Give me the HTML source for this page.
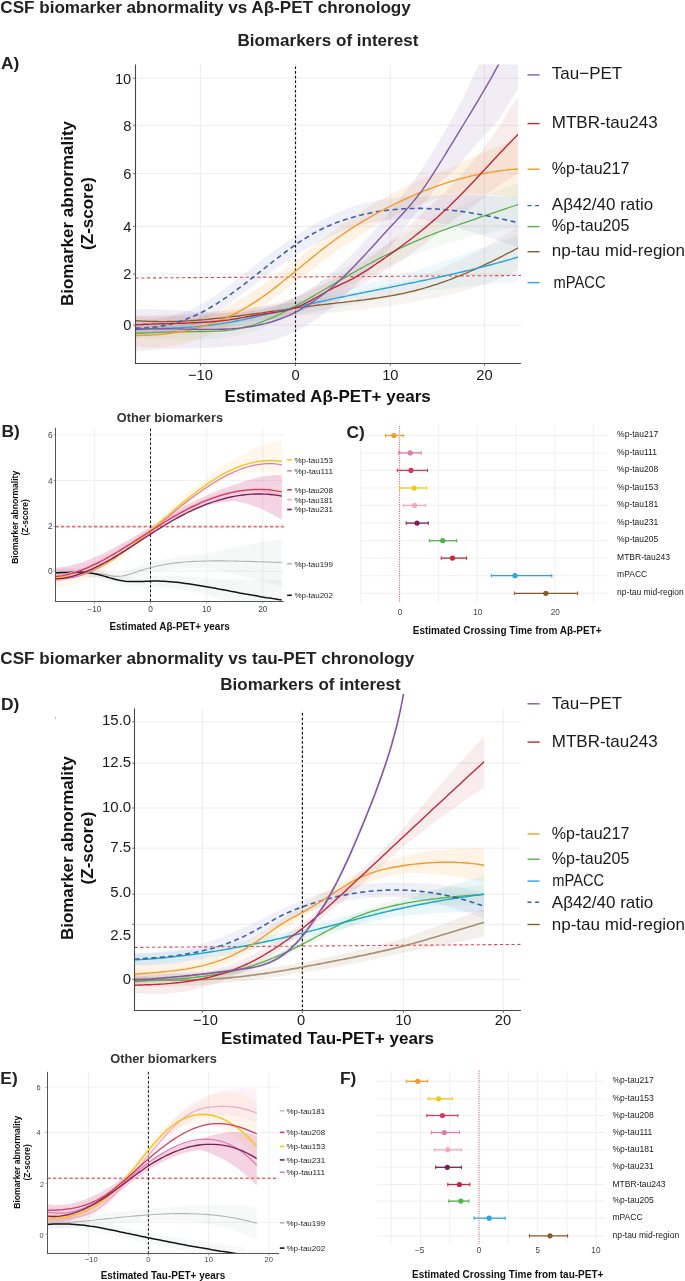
<!DOCTYPE html>
<html><head><meta charset="utf-8"><style>
html,body{margin:0;padding:0;background:#fff;}
svg{display:block;will-change:transform;}
svg text{font-family:"Liberation Sans", sans-serif;}
</style></head><body>
<svg width="685" height="1281" viewBox="0 0 685 1281">
<rect width="685" height="1281" fill="#fff"/>
<text x="0.3" y="12.7" font-size="17.1" fill="#222" font-weight="bold" textLength="410.5" lengthAdjust="spacingAndGlyphs" >CSF biomarker abnormality vs Aβ-PET chronology</text>
<text x="0.3" y="663.8" font-size="17.1" fill="#222" font-weight="bold" textLength="414" lengthAdjust="spacingAndGlyphs" >CSF biomarker abnormality vs tau-PET chronology</text>
<line x1="135.5" y1="78.2" x2="521.0" y2="78.2" stroke="#e9e9e9" stroke-width="0.8"/>
<line x1="135.5" y1="125.3" x2="521.0" y2="125.3" stroke="#e9e9e9" stroke-width="0.8"/>
<line x1="135.5" y1="173.6" x2="521.0" y2="173.6" stroke="#e9e9e9" stroke-width="0.8"/>
<line x1="135.5" y1="226.3" x2="521.0" y2="226.3" stroke="#e9e9e9" stroke-width="0.8"/>
<line x1="135.5" y1="274.0" x2="521.0" y2="274.0" stroke="#e9e9e9" stroke-width="0.8"/>
<line x1="135.5" y1="325.1" x2="521.0" y2="325.1" stroke="#e9e9e9" stroke-width="0.8"/>
<line x1="200.4" y1="64.4" x2="200.4" y2="363.5" stroke="#e9e9e9" stroke-width="0.8"/>
<line x1="295.5" y1="64.4" x2="295.5" y2="363.5" stroke="#e9e9e9" stroke-width="0.8"/>
<line x1="390.3" y1="64.4" x2="390.3" y2="363.5" stroke="#e9e9e9" stroke-width="0.8"/>
<line x1="484.5" y1="64.4" x2="484.5" y2="363.5" stroke="#e9e9e9" stroke-width="0.8"/>
<clipPath id="clipA"><rect x="135.5" y="64.4" width="382.6" height="299.2"/></clipPath>
<g clip-path="url(#clipA)">
<path d="M135.5,309.6L138.5,309.5L141.5,309.3L144.5,309.3L147.5,309.2L150.6,309.2L153.6,309.3L156.6,309.3L159.6,309.4L162.6,309.5L165.6,309.7L168.6,309.8L171.6,310.0L174.7,310.2L177.7,310.4L180.7,310.6L183.7,310.8L186.7,311.0L189.7,311.2L192.7,311.4L195.7,311.6L198.7,311.9L201.8,312.0L204.8,312.2L207.8,312.4L210.8,312.5L213.8,312.7L216.8,312.7L219.8,312.8L222.8,312.9L225.9,312.9L228.9,312.8L231.9,312.8L234.9,312.7L237.9,312.5L240.9,312.3L243.9,312.0L246.9,311.7L249.9,311.3L253.0,310.9L256.0,310.4L259.0,309.9L262.0,309.2L265.0,308.6L268.0,307.8L271.0,307.0L274.0,306.1L277.1,305.1L280.1,304.1L283.1,303.0L286.1,301.8L289.1,300.5L292.1,299.2L295.1,297.8L298.1,296.3L301.1,294.7L304.2,292.9L307.2,291.1L310.2,289.1L313.2,287.1L316.2,285.0L319.2,282.8L322.2,280.5L325.2,278.2L328.3,275.8L331.3,273.2L334.3,270.7L337.3,268.0L340.3,265.3L343.3,262.5L346.3,259.6L349.3,256.7L352.4,253.7L355.4,250.7L358.4,247.6L361.4,244.5L364.4,241.3L367.4,238.1L370.4,234.8L373.4,231.5L376.4,228.1L379.5,224.7L382.5,221.0L385.5,217.3L388.5,213.4L391.5,209.6L394.5,205.7L397.5,201.9L400.5,198.0L403.6,194.0L406.6,190.1L409.6,186.1L412.6,182.0L415.6,177.9L418.6,173.7L421.6,169.3L424.6,164.7L427.6,160.0L430.7,155.3L433.7,150.4L436.7,145.4L439.7,140.2L442.7,135.0L445.7,129.7L448.7,124.3L451.7,118.8L454.8,113.3L457.8,107.9L460.8,102.5L463.8,96.8L466.8,90.3L469.8,83.8L472.8,77.3L475.8,70.9L478.8,64.5L481.9,58.2L484.9,51.7L487.9,45.7L490.9,39.5L493.9,33.3L496.9,27.0L499.9,20.6L502.9,14.1L506.0,7.4L509.0,0.6L512.0,-6.4L515.0,-13.7L518.0,-21.1 L518.0,87.9L515.0,93.3L512.0,98.4L509.0,103.4L506.0,108.3L502.9,113.0L499.9,117.5L496.9,121.9L493.9,125.2L490.9,128.4L487.9,131.5L484.9,134.6L481.9,138.0L478.8,141.4L475.8,144.7L472.8,148.3L469.8,152.1L466.8,155.8L463.8,159.5L460.8,163.1L457.8,166.6L454.8,170.1L451.7,172.8L448.7,175.5L445.7,178.0L442.7,180.5L439.7,183.1L436.7,187.2L433.7,191.2L430.7,195.0L427.6,198.7L424.6,202.3L421.6,205.9L418.6,209.7L415.6,213.8L412.6,217.8L409.6,221.8L406.6,225.7L403.6,229.6L400.5,233.5L397.5,237.3L394.5,241.1L391.5,244.9L388.5,248.7L385.5,252.4L382.5,256.1L379.5,259.7L376.4,263.1L373.4,266.4L370.4,269.7L367.4,272.9L364.4,276.1L361.4,279.3L358.4,282.4L355.4,285.4L352.4,288.4L349.3,291.3L346.3,294.2L343.3,297.0L340.3,299.8L337.3,302.5L334.3,305.1L331.3,307.6L328.3,310.1L325.2,312.5L322.2,314.8L319.2,317.1L316.2,319.2L313.2,321.3L310.2,323.3L307.2,325.2L304.2,327.0L301.1,328.7L298.1,330.3L295.1,331.7L292.1,333.1L289.1,334.4L286.1,335.6L283.1,336.7L280.1,337.8L277.1,338.8L274.0,339.7L271.0,340.5L268.0,341.3L265.0,342.0L262.0,342.6L259.0,343.2L256.0,343.7L253.0,344.2L249.9,344.6L246.9,344.9L243.9,345.2L240.9,345.4L237.9,345.5L234.9,345.8L231.9,346.1L228.9,346.5L225.9,346.8L222.8,347.0L219.8,347.3L216.8,347.5L213.8,347.6L210.8,347.8L207.8,347.9L204.8,348.0L201.8,348.1L198.7,348.2L195.7,348.2L192.7,348.3L189.7,348.3L186.7,348.4L183.7,348.5L180.7,348.5L177.7,348.6L174.7,348.6L171.6,348.7L168.6,348.8L165.6,348.9L162.6,349.1L159.6,349.2L156.6,349.4L153.6,349.6L150.6,349.8L147.5,350.1L144.5,350.4L141.5,350.8L138.5,351.2L135.5,351.6 Z" fill="#8059a4" fill-opacity="0.11" stroke="none"/>
<path d="M135.5,316.4L138.5,316.4L141.5,316.4L144.5,316.4L147.6,316.4L150.6,316.4L153.6,316.4L156.6,316.4L159.6,316.3L162.6,316.3L165.6,316.3L168.6,316.2L171.7,316.2L174.7,316.1L177.7,316.0L180.7,315.9L183.7,315.8L186.7,315.7L189.7,315.5L192.7,315.4L195.8,315.2L198.8,315.0L201.8,314.8L204.8,314.6L207.8,314.4L210.8,314.1L213.8,313.8L216.8,313.5L219.9,313.2L222.9,312.9L225.9,312.5L228.9,312.2L231.9,311.8L234.9,311.3L237.9,310.9L240.9,310.4L244.0,309.9L247.0,309.4L250.0,308.9L253.0,308.3L256.0,307.7L259.0,307.0L262.0,306.4L265.0,305.7L268.1,305.0L271.1,304.2L274.1,303.5L277.1,302.7L280.1,301.8L283.1,300.9L286.1,300.0L289.1,299.1L292.2,298.1L295.2,297.1L298.2,296.0L301.2,294.9L304.2,293.6L307.2,292.3L310.2,291.0L313.2,289.6L316.3,288.2L319.3,286.7L322.3,285.3L325.3,283.7L328.3,282.2L331.3,280.6L334.3,278.9L337.3,277.3L340.4,275.6L343.4,273.8L346.4,272.1L349.4,270.3L352.4,268.4L355.4,266.5L358.4,264.6L361.4,262.6L364.5,260.7L367.5,258.6L370.5,256.6L373.5,254.5L376.5,252.3L379.5,250.2L382.5,247.8L385.5,245.4L388.6,243.0L391.6,240.5L394.6,238.0L397.6,235.5L400.6,232.9L403.6,230.3L406.6,227.7L409.6,225.0L412.7,222.3L415.7,219.5L418.7,216.8L421.7,214.0L424.7,211.3L427.7,208.5L430.7,205.7L433.7,202.8L436.8,200.0L439.8,197.1L442.8,194.1L445.8,191.2L448.8,188.2L451.8,185.0L454.8,181.7L457.8,178.4L460.9,175.1L463.9,171.8L466.9,168.4L469.9,165.0L472.9,161.5L475.9,158.0L478.9,154.5L481.9,150.6L485.0,146.4L488.0,142.2L491.0,138.0L494.0,133.8L497.0,129.6L500.0,125.4L503.0,121.1L506.0,115.5L509.1,110.0L512.1,105.5L515.1,101.5L518.1,97.5 L518.1,173.5L515.1,175.5L512.1,177.4L509.1,179.2L506.0,180.9L503.0,182.5L500.0,184.8L497.0,187.0L494.0,189.2L491.0,191.4L488.0,193.9L485.0,196.3L481.9,198.7L478.9,201.1L475.9,203.5L472.9,205.9L469.9,208.3L466.9,210.6L463.9,212.9L460.9,215.1L457.8,217.3L454.8,219.5L451.8,221.7L448.8,224.0L445.8,226.6L442.8,229.2L439.8,231.7L436.8,234.2L433.7,236.7L430.7,239.1L427.7,241.5L424.7,243.9L421.7,246.2L418.7,248.5L415.7,250.7L412.7,252.8L409.6,254.9L406.6,257.0L403.6,259.0L400.6,261.0L397.6,263.0L394.6,264.9L391.6,266.8L388.6,268.7L385.5,270.5L382.5,272.3L379.5,274.1L376.5,276.0L373.5,277.8L370.5,279.6L367.5,281.4L364.5,283.1L361.4,284.8L358.4,286.4L355.4,288.1L352.4,289.6L349.4,291.2L346.4,292.7L343.4,294.2L340.4,295.6L337.3,297.0L334.3,298.4L331.3,299.7L328.3,301.0L325.3,302.3L322.3,303.5L319.3,304.7L316.3,305.8L313.2,306.9L310.2,308.0L307.2,309.0L304.2,310.1L301.2,311.0L298.2,312.0L295.2,313.1L292.2,314.1L289.1,315.1L286.1,316.0L283.1,316.9L280.1,317.8L277.1,318.7L274.1,319.5L271.1,320.2L268.1,321.0L265.0,321.7L262.0,322.4L259.0,323.0L256.0,323.7L253.0,324.3L250.0,324.9L247.0,325.4L244.0,325.9L240.9,326.4L237.9,326.9L234.9,327.3L231.9,327.8L228.9,328.2L225.9,328.5L222.9,328.9L219.9,329.2L216.8,329.5L213.8,329.8L210.8,330.1L207.8,330.4L204.8,330.6L201.8,330.8L198.8,331.0L195.8,331.2L192.7,331.4L189.7,331.5L186.7,331.7L183.7,331.8L180.7,331.9L177.7,332.0L174.7,332.1L171.7,332.2L168.6,332.2L165.6,332.3L162.6,332.3L159.6,332.3L156.6,332.4L153.6,332.4L150.6,332.4L147.6,332.4L144.5,332.4L141.5,332.4L138.5,332.4L135.5,332.4 Z" fill="#c0283a" fill-opacity="0.09" stroke="none"/>
<path d="M135.5,322.2L138.5,322.8L141.5,323.2L144.5,323.6L147.6,323.9L150.6,324.1L153.6,324.2L156.6,324.2L159.6,324.2L162.6,324.1L165.6,324.0L168.6,323.7L171.7,323.4L174.7,323.1L177.7,322.6L180.7,322.1L183.7,321.5L186.7,320.9L189.7,320.2L192.7,319.4L195.8,318.6L198.8,317.7L201.8,316.7L204.8,315.7L207.8,314.7L210.8,313.5L213.8,312.3L216.8,311.1L219.9,309.8L222.9,308.4L225.9,307.0L228.9,305.6L231.9,304.0L234.9,302.3L237.9,300.6L240.9,298.9L244.0,297.0L247.0,295.2L250.0,293.3L253.0,291.3L256.0,289.3L259.0,287.3L262.0,285.2L265.0,283.1L268.1,281.0L271.1,278.8L274.1,276.6L277.1,274.4L280.1,272.1L283.1,269.8L286.1,267.5L289.1,265.2L292.2,262.9L295.2,260.5L298.2,258.2L301.2,255.8L304.2,253.5L307.2,251.1L310.2,248.8L313.2,246.4L316.3,244.1L319.3,241.7L322.3,239.4L325.3,237.1L328.3,234.8L331.3,232.5L334.3,230.3L337.3,228.0L340.4,225.8L343.4,223.7L346.4,221.5L349.4,219.4L352.4,217.3L355.4,215.3L358.4,213.3L361.4,211.3L364.5,209.3L367.5,207.4L370.5,205.6L373.5,203.8L376.5,202.0L379.5,200.2L382.5,198.5L385.5,196.8L388.6,195.1L391.6,193.5L394.6,191.9L397.6,190.4L400.6,188.9L403.6,187.4L406.6,185.9L409.6,184.5L412.7,183.1L415.7,181.7L418.7,180.3L421.7,179.0L424.7,177.8L427.7,176.5L430.7,175.3L433.7,174.2L436.8,173.0L439.8,171.9L442.8,170.9L445.8,169.9L448.8,168.9L451.8,167.5L454.8,165.9L457.8,164.4L460.9,162.8L463.9,161.4L466.9,159.9L469.9,158.5L472.9,157.1L475.9,155.8L478.9,154.4L481.9,153.2L485.0,151.9L488.0,150.7L491.0,149.5L494.0,148.3L497.0,147.2L500.0,146.1L503.0,145.0L506.0,144.0L509.1,143.0L512.1,142.0L515.1,141.1L518.1,140.2 L518.1,198.2L515.1,197.7L512.1,197.2L509.1,196.8L506.0,196.4L503.0,196.0L500.0,195.6L497.0,195.3L494.0,195.0L491.0,194.8L488.0,194.5L485.0,194.3L481.9,194.2L478.9,194.1L475.9,194.0L472.9,193.9L469.9,193.9L466.9,193.9L463.9,193.9L460.9,194.0L457.8,194.1L454.8,194.2L451.8,194.4L448.8,194.8L445.8,195.7L442.8,196.6L439.8,197.5L436.8,198.5L433.7,199.5L430.7,200.6L427.7,201.7L424.7,202.8L421.7,203.9L418.7,205.1L415.7,206.3L412.7,207.6L409.6,208.8L406.6,210.2L403.6,211.5L400.6,212.9L397.6,214.3L394.6,215.8L391.6,217.4L388.6,218.9L385.5,220.5L382.5,222.1L379.5,223.8L376.5,225.5L373.5,227.2L370.5,229.0L367.5,230.8L364.5,232.6L361.4,234.5L358.4,236.4L355.4,238.4L352.4,240.4L349.4,242.4L346.4,244.4L343.4,246.5L340.4,248.6L337.3,250.8L334.3,253.0L331.3,255.2L328.3,257.4L325.3,259.6L322.3,261.9L319.3,264.1L316.3,266.4L313.2,268.7L310.2,271.0L307.2,273.3L304.2,275.6L301.2,277.9L298.2,280.1L295.2,282.4L292.2,284.7L289.1,286.9L286.1,289.1L283.1,291.4L280.1,293.5L277.1,295.7L274.1,297.9L271.1,300.0L268.1,302.1L265.0,304.1L262.0,306.2L259.0,308.1L256.0,310.1L253.0,312.0L250.0,313.9L247.0,315.7L244.0,317.4L240.9,319.2L237.9,320.8L234.9,322.5L231.9,324.1L228.9,325.6L225.9,327.2L222.9,328.7L219.9,330.2L216.8,331.6L213.8,333.0L210.8,334.3L207.8,335.6L204.8,336.8L201.8,337.9L198.8,339.0L195.8,340.0L192.7,341.0L189.7,341.9L186.7,342.7L183.7,343.5L180.7,344.2L177.7,344.8L174.7,345.4L171.7,345.9L168.6,346.3L165.6,346.7L162.6,347.0L159.6,347.2L156.6,347.3L153.6,347.4L150.6,347.4L147.6,347.3L144.5,347.2L141.5,346.9L138.5,346.6L135.5,346.2 Z" fill="#f39c2d" fill-opacity="0.13" stroke="none"/>
<path d="M135.5,319.9L138.5,319.9L141.5,319.9L144.5,319.8L147.6,319.6L150.6,319.4L153.6,319.1L156.6,318.7L159.6,318.3L162.6,317.8L165.6,317.2L168.6,316.5L171.7,315.8L174.7,315.0L177.7,314.1L180.7,313.1L183.7,312.1L186.7,310.9L189.7,309.7L192.7,308.3L195.8,306.9L198.8,305.4L201.8,303.8L204.8,302.1L207.8,300.3L210.8,298.4L213.8,296.4L216.8,294.4L219.9,292.3L222.9,290.1L225.9,287.9L228.9,285.7L231.9,283.4L234.9,281.1L237.9,278.7L240.9,276.3L244.0,274.0L247.0,271.6L250.0,269.2L253.0,266.8L256.0,264.5L259.0,262.1L262.0,259.8L265.0,257.5L268.1,255.3L271.1,253.0L274.1,250.8L277.1,248.6L280.1,246.4L283.1,244.3L286.1,242.2L289.1,240.1L292.2,238.1L295.2,236.1L298.2,234.1L301.2,232.2L304.2,230.3L307.2,228.5L310.2,226.7L313.2,225.0L316.3,223.3L319.3,221.6L322.3,220.0L325.3,218.4L328.3,216.9L331.3,215.5L334.3,214.1L337.3,212.7L340.4,211.4L343.4,210.2L346.4,209.0L349.4,207.9L352.4,206.8L355.4,205.8L358.4,204.8L361.4,204.0L364.5,203.1L367.5,202.4L370.5,201.7L373.5,201.0L376.5,200.4L379.5,199.9L382.5,199.4L385.5,198.9L388.6,198.5L391.6,198.2L394.6,197.9L397.6,197.6L400.6,197.4L403.6,197.2L406.6,197.1L409.6,197.0L412.7,197.0L415.7,196.9L418.7,197.0L421.7,196.8L424.7,196.5L427.7,196.2L430.7,196.0L433.7,195.8L436.8,195.6L439.8,195.4L442.8,195.3L445.8,195.2L448.8,195.1L451.8,195.0L454.8,195.0L457.8,195.0L460.9,195.0L463.9,195.0L466.9,195.1L469.9,195.1L472.9,195.2L475.9,195.3L478.9,195.4L481.9,195.5L485.0,195.6L488.0,195.8L491.0,195.9L494.0,196.0L497.0,196.2L500.0,196.4L503.0,196.5L506.0,196.7L509.1,196.8L512.1,197.0L515.1,197.1L518.1,197.3 L518.1,247.3L515.1,246.3L512.1,245.3L509.1,244.3L506.0,243.3L503.0,242.2L500.0,241.2L497.0,240.2L494.0,239.2L491.0,238.2L488.0,237.2L485.0,236.2L481.9,235.2L478.9,234.2L475.9,233.3L472.9,232.3L469.9,231.4L466.9,230.5L463.9,229.6L460.9,228.7L457.8,227.8L454.8,227.0L451.8,226.1L448.8,225.3L445.8,224.6L442.8,223.8L439.8,223.1L436.8,222.4L433.7,221.7L430.7,221.0L427.7,220.4L424.7,219.8L421.7,219.3L418.7,219.0L415.7,218.9L412.7,218.8L409.6,218.8L406.6,218.9L403.6,219.0L400.6,219.1L397.6,219.2L394.6,219.4L391.6,219.7L388.6,220.0L385.5,220.3L382.5,220.7L379.5,221.2L376.5,221.7L373.5,222.2L370.5,222.8L367.5,223.5L364.5,224.2L361.4,225.0L358.4,225.8L355.4,226.7L352.4,227.7L349.4,228.7L346.4,229.7L343.4,230.9L340.4,232.1L337.3,233.3L334.3,234.6L331.3,236.0L328.3,237.4L325.3,238.9L322.3,240.4L319.3,241.9L316.3,243.5L313.2,245.2L310.2,246.9L307.2,248.6L304.2,250.4L301.2,252.2L298.2,254.1L295.2,256.0L292.2,257.9L289.1,259.9L286.1,261.9L283.1,263.9L280.1,266.0L277.1,268.0L274.1,270.2L271.1,272.3L268.1,274.5L265.0,276.7L262.0,278.9L259.0,281.1L256.0,283.4L253.0,285.7L250.0,288.0L247.0,290.3L244.0,292.6L240.9,294.9L237.9,297.2L234.9,299.5L231.9,301.7L228.9,303.9L225.9,306.1L222.9,308.3L219.9,310.3L216.8,312.4L213.8,314.3L210.8,316.2L207.8,318.0L204.8,319.8L201.8,321.4L198.8,322.9L195.8,324.4L192.7,325.7L189.7,327.0L186.7,328.2L183.7,329.2L180.7,330.2L177.7,331.1L174.7,332.0L171.7,332.7L168.6,333.3L165.6,333.9L162.6,334.4L159.6,334.9L156.6,335.2L153.6,335.5L150.6,335.7L147.6,335.9L144.5,336.0L141.5,336.0L138.5,336.0L135.5,335.9 Z" fill="#6a6ab8" fill-opacity="0.1" stroke="none"/>
<path d="M135.5,326.7L138.5,326.5L141.5,326.4L144.5,326.2L147.6,326.1L150.6,326.0L153.6,326.0L156.6,326.0L159.6,326.0L162.6,326.0L165.6,326.0L168.6,326.0L171.7,326.0L174.7,326.0L177.7,326.1L180.7,326.1L183.7,326.1L186.7,326.1L189.7,326.1L192.7,326.1L195.8,326.0L198.8,325.9L201.8,325.8L204.8,325.7L207.8,325.5L210.8,325.3L213.8,325.1L216.8,324.8L219.9,324.4L222.9,324.0L225.9,323.6L228.9,323.0L231.9,322.5L234.9,321.8L237.9,321.1L240.9,320.4L244.0,319.5L247.0,318.6L250.0,317.6L253.0,316.6L256.0,315.5L259.0,314.4L262.0,313.2L265.0,312.0L268.1,310.7L271.1,309.4L274.1,308.0L277.1,306.6L280.1,305.1L283.1,303.7L286.1,302.1L289.1,300.6L292.2,299.0L295.2,297.4L298.2,295.8L301.2,294.1L304.2,292.4L307.2,290.6L310.2,288.8L313.2,287.0L316.3,285.2L319.3,283.4L322.3,281.6L325.3,279.7L328.3,277.9L331.3,276.1L334.3,274.3L337.3,272.5L340.4,270.6L343.4,268.8L346.4,267.1L349.4,265.3L352.4,263.5L355.4,261.7L358.4,260.0L361.4,258.2L364.5,256.5L367.5,254.8L370.5,253.1L373.5,251.4L376.5,249.7L379.5,248.0L382.5,246.3L385.5,244.7L388.6,243.0L391.6,241.4L394.6,239.8L397.6,238.2L400.6,236.6L403.6,235.0L406.6,233.4L409.6,231.9L412.7,230.3L415.7,228.8L418.7,227.3L421.7,225.7L424.7,224.1L427.7,222.5L430.7,220.9L433.7,219.3L436.8,217.8L439.8,216.2L442.8,214.7L445.8,213.2L448.8,211.7L451.8,210.3L454.8,208.8L457.8,207.4L460.9,206.0L463.9,204.6L466.9,203.2L469.9,201.9L472.9,200.6L475.9,199.3L478.9,198.0L481.9,196.7L485.0,195.5L488.0,194.3L491.0,193.1L494.0,191.9L497.0,190.8L500.0,189.7L503.0,188.6L506.0,187.5L509.1,186.4L512.1,185.4L515.1,184.4L518.1,183.5 L518.1,227.5L515.1,227.9L512.1,228.3L509.1,228.8L506.0,229.3L503.0,229.8L500.0,230.4L497.0,230.9L494.0,231.5L491.0,232.1L488.0,232.8L485.0,233.4L481.9,234.1L478.9,234.8L475.9,235.5L472.9,236.3L469.9,237.1L466.9,237.9L463.9,238.7L460.9,239.5L457.8,240.4L454.8,241.2L451.8,242.1L448.8,243.0L445.8,244.0L442.8,244.9L439.8,245.9L436.8,246.9L433.7,247.9L430.7,248.9L427.7,249.9L424.7,251.0L421.7,252.1L418.7,253.2L415.7,254.5L412.7,255.7L409.6,257.0L406.6,258.3L403.6,259.6L400.6,261.0L397.6,262.3L394.6,263.6L391.6,265.0L388.6,266.4L385.5,267.8L382.5,269.2L379.5,270.6L376.5,272.0L373.5,273.5L370.5,274.9L367.5,276.4L364.5,277.9L361.4,279.4L358.4,280.9L355.4,282.4L352.4,283.9L349.4,285.4L346.4,286.9L343.4,288.5L340.4,290.0L337.3,291.6L334.3,293.1L331.3,294.7L328.3,296.3L325.3,297.8L322.3,299.4L319.3,301.0L316.3,302.5L313.2,304.1L310.2,305.7L307.2,307.2L304.2,308.7L301.2,310.2L298.2,311.8L295.2,313.3L292.2,314.8L289.1,316.3L286.1,317.8L283.1,319.3L280.1,320.7L277.1,322.0L274.1,323.4L271.1,324.7L268.1,325.9L265.0,327.1L262.0,328.3L259.0,329.4L256.0,330.5L253.0,331.5L250.0,332.4L247.0,333.3L244.0,334.2L240.9,334.9L237.9,335.6L234.9,336.3L231.9,336.8L228.9,337.3L225.9,337.8L222.9,338.1L219.9,338.5L216.8,338.7L213.8,339.0L210.8,339.1L207.8,339.3L204.8,339.4L201.8,339.4L198.8,339.5L195.8,339.5L192.7,339.5L189.7,339.4L186.7,339.4L183.7,339.3L180.7,339.2L177.7,339.1L174.7,339.0L171.7,338.9L168.6,338.8L165.6,338.7L162.6,338.6L159.6,338.5L156.6,338.5L153.6,338.4L150.6,338.4L147.6,338.4L144.5,338.5L141.5,338.5L138.5,338.6L135.5,338.7 Z" fill="#5aad4f" fill-opacity="0.07" stroke="none"/>
<path d="M135.5,324.4L138.5,324.4L141.5,324.3L144.5,324.3L147.6,324.2L150.6,324.1L153.6,324.0L156.6,323.9L159.6,323.7L162.6,323.6L165.6,323.4L168.6,323.2L171.7,322.9L174.7,322.7L177.7,322.4L180.7,322.1L183.7,321.8L186.7,321.4L189.7,321.1L192.7,320.7L195.8,320.4L198.8,320.0L201.8,319.5L204.8,319.1L207.8,318.7L210.8,318.2L213.8,317.7L216.8,317.3L219.9,316.8L222.9,316.3L225.9,315.7L228.9,315.2L231.9,314.7L234.9,314.1L237.9,313.5L240.9,313.0L244.0,312.4L247.0,311.8L250.0,311.2L253.0,310.6L256.0,309.9L259.0,309.3L262.0,308.7L265.0,308.0L268.1,307.4L271.1,306.7L274.1,306.1L277.1,305.4L280.1,304.8L283.1,304.1L286.1,303.4L289.1,302.7L292.2,302.1L295.2,301.4L298.2,300.7L301.2,300.0L304.2,299.2L307.2,298.5L310.2,297.7L313.2,297.0L316.3,296.2L319.3,295.5L322.3,294.7L325.3,293.9L328.3,293.2L331.3,292.4L334.3,291.6L337.3,290.9L340.4,290.1L343.4,289.3L346.4,288.6L349.4,287.8L352.4,287.0L355.4,286.2L358.4,285.5L361.4,284.7L364.5,283.9L367.5,283.1L370.5,282.4L373.5,281.6L376.5,280.8L379.5,280.0L382.5,279.3L385.5,278.5L388.6,277.7L391.6,276.9L394.6,276.1L397.6,275.3L400.6,274.6L403.6,273.8L406.6,273.0L409.6,272.2L412.7,271.4L415.7,270.6L418.7,269.9L421.7,268.9L424.7,267.9L427.7,266.8L430.7,265.8L433.7,264.7L436.8,263.6L439.8,262.6L442.8,261.5L445.8,260.5L448.8,259.4L451.8,258.4L454.8,257.3L457.8,256.3L460.9,255.2L463.9,254.2L466.9,253.1L469.9,252.1L472.9,251.0L475.9,250.0L478.9,248.9L481.9,247.9L485.0,246.8L488.0,245.8L491.0,244.7L494.0,243.7L497.0,242.6L500.0,241.6L503.0,240.5L506.0,239.5L509.1,238.5L512.1,237.4L515.1,236.4L518.1,235.3 L518.1,281.3L515.1,281.7L512.1,282.0L509.1,282.3L506.0,282.6L503.0,282.9L500.0,283.2L497.0,283.5L494.0,283.8L491.0,284.1L488.0,284.4L485.0,284.7L481.9,285.0L478.9,285.3L475.9,285.7L472.9,286.0L469.9,286.3L466.9,286.6L463.9,286.9L460.9,287.2L457.8,287.5L454.8,287.9L451.8,288.2L448.8,288.5L445.8,288.8L442.8,289.1L439.8,289.4L436.8,289.7L433.7,290.1L430.7,290.4L427.7,290.7L424.7,291.0L421.7,291.3L418.7,291.8L415.7,292.3L412.7,292.9L409.6,293.5L406.6,294.1L403.6,294.7L400.6,295.3L397.6,295.8L394.6,296.4L391.6,297.0L388.6,297.6L385.5,298.2L382.5,298.8L379.5,299.3L376.5,299.9L373.5,300.5L370.5,301.1L367.5,301.6L364.5,302.2L361.4,302.8L358.4,303.4L355.4,303.9L352.4,304.5L349.4,305.1L346.4,305.7L343.4,306.2L340.4,306.8L337.3,307.4L334.3,307.9L331.3,308.5L328.3,309.1L325.3,309.6L322.3,310.2L319.3,310.7L316.3,311.3L313.2,311.8L310.2,312.4L307.2,313.0L304.2,313.5L301.2,314.1L298.2,314.6L295.2,315.3L292.2,315.9L289.1,316.5L286.1,317.1L283.1,317.7L280.1,318.3L277.1,318.9L274.1,319.5L271.1,320.0L268.1,320.6L265.0,321.2L262.0,321.8L259.0,322.3L256.0,322.9L253.0,323.4L250.0,324.0L247.0,324.5L244.0,325.0L240.9,325.5L237.9,326.0L234.9,326.5L231.9,327.0L228.9,327.5L225.9,327.9L222.9,328.4L219.9,328.8L216.8,329.2L213.8,329.7L210.8,330.1L207.8,330.4L204.8,330.8L201.8,331.2L198.8,331.5L195.8,331.8L192.7,332.1L189.7,332.4L186.7,332.7L183.7,333.0L180.7,333.2L177.7,333.4L174.7,333.6L171.7,333.8L168.6,334.0L165.6,334.1L162.6,334.2L159.6,334.3L156.6,334.4L153.6,334.5L150.6,334.5L147.6,334.5L144.5,334.5L141.5,334.5L138.5,334.5L135.5,334.4 Z" fill="#2ba6dc" fill-opacity="0.08" stroke="none"/>
<path d="M135.5,315.7L138.5,315.7L141.5,315.6L144.5,315.6L147.6,315.5L150.6,315.4L153.6,315.4L156.6,315.3L159.6,315.2L162.6,315.0L165.6,314.9L168.6,314.8L171.7,314.6L174.7,314.5L177.7,314.3L180.7,314.1L183.7,313.9L186.7,313.7L189.7,313.5L192.7,313.3L195.8,313.1L198.8,312.9L201.8,312.6L204.8,312.4L207.8,312.1L210.8,311.9L213.8,311.6L216.8,311.3L219.9,311.0L222.9,310.7L225.9,310.4L228.9,310.1L231.9,309.8L234.9,309.5L237.9,309.2L240.9,308.8L244.0,308.5L247.0,308.2L250.0,307.8L253.0,307.5L256.0,307.1L259.0,306.7L262.0,306.4L265.0,306.0L268.1,305.6L271.1,305.2L274.1,304.9L277.1,304.5L280.1,304.1L283.1,303.7L286.1,303.3L289.1,302.9L292.2,302.5L295.2,302.1L298.2,301.7L301.2,301.3L304.2,300.7L307.2,300.2L310.2,299.7L313.2,299.2L316.3,298.7L319.3,298.2L322.3,297.6L325.3,297.1L328.3,296.6L331.3,296.1L334.3,295.5L337.3,295.0L340.4,294.5L343.4,293.9L346.4,293.4L349.4,292.8L352.4,292.3L355.4,291.7L358.4,291.1L361.4,290.6L364.5,290.0L367.5,289.4L370.5,288.7L373.5,288.1L376.5,287.5L379.5,286.8L382.5,286.1L385.5,285.5L388.6,284.8L391.6,284.1L394.6,283.3L397.6,282.6L400.6,281.8L403.6,281.1L406.6,280.3L409.6,279.4L412.7,278.6L415.7,277.7L418.7,276.9L421.7,275.9L424.7,274.8L427.7,273.6L430.7,272.5L433.7,271.3L436.8,270.1L439.8,268.9L442.8,267.6L445.8,266.3L448.8,265.0L451.8,263.7L454.8,262.3L457.8,260.9L460.9,259.5L463.9,258.0L466.9,256.5L469.9,255.0L472.9,253.5L475.9,251.9L478.9,250.2L481.9,248.6L485.0,246.9L488.0,245.2L491.0,243.4L494.0,241.6L497.0,239.8L500.0,237.9L503.0,235.9L506.0,234.0L509.1,232.0L512.1,229.9L515.1,227.9L518.1,225.7 L518.1,269.7L515.1,271.3L512.1,272.7L509.1,274.2L506.0,275.5L503.0,276.9L500.0,278.2L497.0,279.5L494.0,280.7L491.0,281.9L488.0,283.0L485.0,284.2L481.9,285.2L478.9,286.3L475.9,287.3L472.9,288.3L469.9,289.2L466.9,290.1L463.9,291.0L460.9,291.8L457.8,292.6L454.8,293.4L451.8,294.2L448.8,294.9L445.8,295.6L442.8,296.3L439.8,296.9L436.8,297.5L433.7,298.1L430.7,298.7L427.7,299.2L424.7,299.7L421.7,300.2L418.7,300.8L415.7,301.4L412.7,302.0L409.6,302.6L406.6,303.1L403.6,303.7L400.6,304.2L397.6,304.7L394.6,305.2L391.6,305.7L388.6,306.2L385.5,306.6L382.5,307.0L379.5,307.4L376.5,307.8L373.5,308.2L370.5,308.6L367.5,309.0L364.5,309.3L361.4,309.7L358.4,310.0L355.4,310.3L352.4,310.6L349.4,311.0L346.4,311.3L343.4,311.6L340.4,311.8L337.3,312.1L334.3,312.4L331.3,312.7L328.3,313.0L325.3,313.2L322.3,313.5L319.3,313.8L316.3,314.0L313.2,314.3L310.2,314.6L307.2,314.8L304.2,315.1L301.2,315.4L298.2,315.7L295.2,316.0L292.2,316.4L289.1,316.8L286.1,317.1L283.1,317.5L280.1,317.8L277.1,318.2L274.1,318.5L271.1,318.9L268.1,319.2L265.0,319.6L262.0,319.9L259.0,320.2L256.0,320.6L253.0,320.9L250.0,321.2L247.0,321.5L244.0,321.8L240.9,322.1L237.9,322.4L234.9,322.7L231.9,323.0L228.9,323.3L225.9,323.5L222.9,323.8L219.9,324.0L216.8,324.3L213.8,324.5L210.8,324.8L207.8,325.0L204.8,325.2L201.8,325.4L198.8,325.6L195.8,325.8L192.7,326.0L189.7,326.2L186.7,326.4L183.7,326.5L180.7,326.7L177.7,326.8L174.7,327.0L171.7,327.1L168.6,327.2L165.6,327.3L162.6,327.4L159.6,327.5L156.6,327.5L153.6,327.6L150.6,327.6L147.6,327.7L144.5,327.7L141.5,327.7L138.5,327.7L135.5,327.7 Z" fill="#8a5a2c" fill-opacity="0.07" stroke="none"/>
</g>
<line x1="135.5" y1="278.0" x2="521.0" y2="275.5" stroke="#e8434d" stroke-width="1.1" stroke-dasharray="3.2,2.6"/>
<line x1="295.5" y1="66.4" x2="295.5" y2="363.5" stroke="#111" stroke-width="1.15" stroke-dasharray="2.6,2.1"/>
<clipPath id="clipA2"><rect x="135.5" y="64.4" width="382.6" height="299.2"/></clipPath>
<g clip-path="url(#clipA2)">
<path d="M135.5,320.7L138.5,320.9L141.5,321.1L144.5,321.2L147.6,321.3L150.6,321.4L153.6,321.5L156.6,321.5L159.6,321.6L162.6,321.6L165.6,321.6L168.6,321.5L171.7,321.5L174.7,321.4L177.7,321.3L180.7,321.1L183.7,321.0L186.7,320.8L189.7,320.7L192.7,320.5L195.8,320.3L198.8,320.0L201.8,319.8L204.8,319.6L207.8,319.3L210.8,319.0L213.8,318.7L216.8,318.4L219.9,318.1L222.9,317.8L225.9,317.4L228.9,317.1L231.9,316.7L234.9,316.3L237.9,316.0L240.9,315.6L244.0,315.2L247.0,314.8L250.0,314.4L253.0,314.0L256.0,313.6L259.0,313.2L262.0,312.8L265.0,312.3L268.1,311.9L271.1,311.5L274.1,311.1L277.1,310.7L280.1,310.2L283.1,309.8L286.1,309.4L289.1,309.0L292.2,308.5L295.2,308.1L298.2,307.7L301.2,307.3L304.2,306.9L307.2,306.5L310.2,306.1L313.2,305.8L316.3,305.4L319.3,305.0L322.3,304.7L325.3,304.3L328.3,304.0L331.3,303.6L334.3,303.3L337.3,302.9L340.4,302.6L343.4,302.3L346.4,301.9L349.4,301.6L352.4,301.2L355.4,300.9L358.4,300.5L361.4,300.1L364.5,299.8L367.5,299.4L370.5,299.0L373.5,298.5L376.5,298.1L379.5,297.7L382.5,297.2L385.5,296.7L388.6,296.2L391.6,295.7L394.6,295.1L397.6,294.5L400.6,293.9L403.6,293.3L406.6,292.6L409.6,291.9L412.7,291.2L415.7,290.5L418.7,289.7L421.7,288.9L424.7,288.0L427.7,287.1L430.7,286.2L433.7,285.2L436.8,284.3L439.8,283.2L442.8,282.2L445.8,281.1L448.8,280.0L451.8,278.9L454.8,277.7L457.8,276.5L460.9,275.3L463.9,274.0L466.9,272.8L469.9,271.5L472.9,270.2L475.9,268.8L478.9,267.4L481.9,266.1L485.0,264.6L488.0,263.2L491.0,261.8L494.0,260.3L497.0,258.8L500.0,257.3L503.0,255.8L506.0,254.2L509.1,252.7L512.1,251.1L515.1,249.5L518.1,247.9" fill="none" stroke="#8a5a2c" stroke-width="1.3" stroke-linejoin="round"/>
<path d="M135.5,328.8L138.5,328.8L141.5,328.8L144.5,328.7L147.6,328.7L150.6,328.6L153.6,328.6L156.6,328.5L159.6,328.5L162.6,328.4L165.6,328.3L168.6,328.2L171.7,328.1L174.7,328.0L177.7,327.9L180.7,327.7L183.7,327.5L186.7,327.4L189.7,327.2L192.7,326.9L195.8,326.7L198.8,326.4L201.8,326.1L204.8,325.8L207.8,325.5L210.8,325.1L213.8,324.8L216.8,324.3L219.9,323.9L222.9,323.4L225.9,322.9L228.9,322.4L231.9,321.9L234.9,321.3L237.9,320.7L240.9,320.1L244.0,319.5L247.0,318.8L250.0,318.2L253.0,317.5L256.0,316.8L259.0,316.1L262.0,315.4L265.0,314.7L268.1,313.9L271.1,313.2L274.1,312.5L277.1,311.7L280.1,311.0L283.1,310.2L286.1,309.5L289.1,308.8L292.2,308.0L295.2,307.3L298.2,306.6L301.2,305.9L304.2,305.2L307.2,304.5L310.2,303.8L313.2,303.2L316.3,302.5L319.3,301.8L322.3,301.2L325.3,300.5L328.3,299.9L331.3,299.2L334.3,298.6L337.3,297.9L340.4,297.3L343.4,296.7L346.4,296.1L349.4,295.4L352.4,294.8L355.4,294.2L358.4,293.6L361.4,293.0L364.5,292.4L367.5,291.8L370.5,291.2L373.5,290.6L376.5,290.0L379.5,289.4L382.5,288.8L385.5,288.2L388.6,287.6L391.6,287.0L394.6,286.4L397.6,285.7L400.6,285.1L403.6,284.5L406.6,283.9L409.6,283.3L412.7,282.7L415.7,282.1L418.7,281.4L421.7,280.8L424.7,280.2L427.7,279.6L430.7,278.9L433.7,278.3L436.8,277.6L439.8,277.0L442.8,276.3L445.8,275.6L448.8,275.0L451.8,274.3L454.8,273.6L457.8,272.9L460.9,272.2L463.9,271.5L466.9,270.8L469.9,270.1L472.9,269.3L475.9,268.6L478.9,267.8L481.9,267.1L485.0,266.3L488.0,265.5L491.0,264.7L494.0,263.9L497.0,263.1L500.0,262.3L503.0,261.5L506.0,260.6L509.1,259.8L512.1,258.9L515.1,258.0L518.1,257.1" fill="none" stroke="#2ba6dc" stroke-width="1.4" stroke-linejoin="round"/>
<path d="M135.5,333.4L138.5,333.2L141.5,333.0L144.5,332.9L147.6,332.8L150.6,332.7L153.6,332.5L156.6,332.4L159.6,332.3L162.6,332.2L165.6,332.2L168.6,332.1L171.7,332.0L174.7,331.9L177.7,331.9L180.7,331.8L183.7,331.8L186.7,331.7L189.7,331.7L192.7,331.6L195.8,331.6L198.8,331.5L201.8,331.5L204.8,331.5L207.8,331.4L210.8,331.3L213.8,331.2L216.8,331.1L219.9,331.0L222.9,330.8L225.9,330.5L228.9,330.2L231.9,329.8L234.9,329.4L237.9,328.8L240.9,328.2L244.0,327.5L247.0,326.7L250.0,325.9L253.0,325.0L256.0,324.0L259.0,322.9L262.0,321.8L265.0,320.7L268.1,319.4L271.1,318.1L274.1,316.8L277.1,315.4L280.1,314.0L283.1,312.5L286.1,311.0L289.1,309.5L292.2,307.9L295.2,306.3L298.2,304.6L301.2,302.9L304.2,301.3L307.2,299.5L310.2,297.8L313.2,296.1L316.3,294.3L319.3,292.5L322.3,290.8L325.3,289.0L328.3,287.2L331.3,285.4L334.3,283.7L337.3,281.9L340.4,280.1L343.4,278.4L346.4,276.6L349.4,274.9L352.4,273.2L355.4,271.5L358.4,269.8L361.4,268.1L364.5,266.5L367.5,264.8L370.5,263.2L373.5,261.6L376.5,260.0L379.5,258.4L382.5,256.9L385.5,255.3L388.6,253.8L391.6,252.3L394.6,250.9L397.6,249.4L400.6,248.0L403.6,246.6L406.6,245.2L409.6,243.8L412.7,242.5L415.7,241.2L418.7,239.9L421.7,238.7L424.7,237.4L427.7,236.2L430.7,235.0L433.7,233.9L436.8,232.7L439.8,231.5L442.8,230.4L445.8,229.3L448.8,228.2L451.8,227.1L454.8,226.0L457.8,225.0L460.9,223.9L463.9,222.9L466.9,221.8L469.9,220.8L472.9,219.8L475.9,218.8L478.9,217.7L481.9,216.7L485.0,215.7L488.0,214.7L491.0,213.7L494.0,212.7L497.0,211.7L500.0,210.6L503.0,209.6L506.0,208.6L509.1,207.5L512.1,206.5L515.1,205.5L518.1,204.4" fill="none" stroke="#5aad4f" stroke-width="1.3" stroke-linejoin="round"/>
<path d="M135.5,328.1L138.5,328.1L141.5,328.1L144.5,328.0L147.6,327.8L150.6,327.6L153.6,327.2L156.6,326.9L159.6,326.4L162.6,325.9L165.6,325.3L168.6,324.6L171.7,323.9L174.7,323.1L177.7,322.2L180.7,321.2L183.7,320.2L186.7,319.0L189.7,317.8L192.7,316.6L195.8,315.2L198.8,313.8L201.8,312.3L204.8,310.7L207.8,309.0L210.8,307.2L213.8,305.4L216.8,303.6L219.9,301.6L222.9,299.6L225.9,297.6L228.9,295.5L231.9,293.3L234.9,291.1L237.9,288.9L240.9,286.7L244.0,284.4L247.0,282.1L250.0,279.7L253.0,277.4L256.0,275.0L259.0,272.6L262.0,270.2L265.0,267.9L268.1,265.5L271.1,263.1L274.1,260.7L277.1,258.4L280.1,256.1L283.1,253.8L286.1,251.5L289.1,249.3L292.2,247.1L295.2,245.0L298.2,242.9L301.2,240.9L304.2,239.0L307.2,237.1L310.2,235.3L313.2,233.5L316.3,231.9L319.3,230.3L322.3,228.8L325.3,227.4L328.3,226.0L331.3,224.7L334.3,223.5L337.3,222.3L340.4,221.2L343.4,220.2L346.4,219.2L349.4,218.3L352.4,217.4L355.4,216.5L358.4,215.7L361.4,215.0L364.5,214.2L367.5,213.6L370.5,213.0L373.5,212.4L376.5,211.8L379.5,211.3L382.5,210.9L385.5,210.5L388.6,210.1L391.6,209.8L394.6,209.5L397.6,209.2L400.6,209.0L403.6,208.8L406.6,208.7L409.6,208.5L412.7,208.5L415.7,208.4L418.7,208.4L421.7,208.4L424.7,208.5L427.7,208.6L430.7,208.7L433.7,208.8L436.8,209.0L439.8,209.2L442.8,209.4L445.8,209.7L448.8,210.0L451.8,210.3L454.8,210.7L457.8,211.0L460.9,211.4L463.9,211.8L466.9,212.3L469.9,212.7L472.9,213.2L475.9,213.7L478.9,214.3L481.9,214.8L485.0,215.4L488.0,216.0L491.0,216.6L494.0,217.2L497.0,217.9L500.0,218.5L503.0,219.2L506.0,219.9L509.1,220.6L512.1,221.3L515.1,222.1L518.1,222.8" fill="none" stroke="#3a5fae" stroke-width="1.6" stroke-linejoin="round" stroke-dasharray="5,3.5"/>
<path d="M135.5,335.5L138.5,335.5L141.5,335.4L144.5,335.3L147.6,335.2L150.6,335.1L153.6,334.9L156.6,334.7L159.6,334.4L162.6,334.2L165.6,333.8L168.6,333.5L171.7,333.1L174.7,332.6L177.7,332.2L180.7,331.6L183.7,331.1L186.7,330.5L189.7,329.8L192.7,329.1L195.8,328.3L198.8,327.5L201.8,326.7L204.8,325.8L207.8,324.8L210.8,323.8L213.8,322.7L216.8,321.6L219.9,320.4L222.9,319.2L225.9,317.9L228.9,316.5L231.9,315.1L234.9,313.6L237.9,312.1L240.9,310.5L244.0,308.8L247.0,307.0L250.0,305.2L253.0,303.3L256.0,301.4L259.0,299.4L262.0,297.3L265.0,295.1L268.1,292.9L271.1,290.7L274.1,288.4L277.1,286.1L280.1,283.7L283.1,281.3L286.1,278.9L289.1,276.4L292.2,273.9L295.2,271.5L298.2,269.0L301.2,266.5L304.2,264.0L307.2,261.5L310.2,259.1L313.2,256.6L316.3,254.2L319.3,251.8L322.3,249.4L325.3,247.1L328.3,244.8L331.3,242.5L334.3,240.3L337.3,238.1L340.4,236.0L343.4,233.9L346.4,231.9L349.4,229.8L352.4,227.9L355.4,226.0L358.4,224.1L361.4,222.2L364.5,220.4L367.5,218.7L370.5,216.9L373.5,215.2L376.5,213.6L379.5,211.9L382.5,210.3L385.5,208.7L388.6,207.2L391.6,205.7L394.6,204.2L397.6,202.7L400.6,201.3L403.6,199.9L406.6,198.5L409.6,197.1L412.7,195.8L415.7,194.5L418.7,193.2L421.7,192.0L424.7,190.7L427.7,189.5L430.7,188.4L433.7,187.3L436.8,186.2L439.8,185.1L442.8,184.1L445.8,183.1L448.8,182.1L451.8,181.2L454.8,180.3L457.8,179.4L460.9,178.6L463.9,177.8L466.9,177.1L469.9,176.3L472.9,175.6L475.9,175.0L478.9,174.4L481.9,173.8L485.0,173.2L488.0,172.6L491.0,172.1L494.0,171.7L497.0,171.2L500.0,170.8L503.0,170.4L506.0,170.1L509.1,169.7L512.1,169.4L515.1,169.2L518.1,168.9" fill="none" stroke="#f39c2d" stroke-width="1.4" stroke-linejoin="round"/>
<path d="M135.5,324.8L138.5,324.6L141.5,324.5L144.5,324.3L147.6,324.2L150.6,324.1L153.6,324.0L156.6,323.9L159.6,323.8L162.6,323.7L165.6,323.6L168.6,323.6L171.7,323.5L174.7,323.4L177.7,323.3L180.7,323.2L183.7,323.2L186.7,323.1L189.7,322.9L192.7,322.8L195.8,322.7L198.8,322.5L201.8,322.4L204.8,322.2L207.8,322.0L210.8,321.8L213.8,321.5L216.8,321.3L219.9,321.0L222.9,320.6L225.9,320.3L228.9,319.9L231.9,319.4L234.9,319.0L237.9,318.5L240.9,317.9L244.0,317.4L247.0,316.8L250.0,316.3L253.0,315.7L256.0,315.2L259.0,314.7L262.0,314.2L265.0,313.8L268.1,313.4L271.1,313.0L274.1,312.5L277.1,312.1L280.1,311.6L283.1,311.0L286.1,310.4L289.1,309.6L292.2,308.7L295.2,307.7L298.2,306.6L301.2,305.3L304.2,303.9L307.2,302.4L310.2,300.8L313.2,299.2L316.3,297.5L319.3,295.8L322.3,294.1L325.3,292.4L328.3,290.7L331.3,289.1L334.3,287.5L337.3,286.1L340.4,284.6L343.4,283.2L346.4,281.8L349.4,280.3L352.4,278.8L355.4,277.1L358.4,275.4L361.4,273.6L364.5,271.7L367.5,269.8L370.5,267.8L373.5,265.8L376.5,263.7L379.5,261.7L382.5,259.6L385.5,257.5L388.6,255.4L391.6,253.2L394.6,251.1L397.6,248.9L400.6,246.7L403.6,244.5L406.6,242.3L409.6,240.0L412.7,237.7L415.7,235.3L418.7,232.9L421.7,230.5L424.7,228.1L427.7,225.5L430.7,223.0L433.7,220.4L436.8,217.8L439.8,215.1L442.8,212.3L445.8,209.5L448.8,206.7L451.8,203.8L454.8,200.8L457.8,197.8L460.9,194.7L463.9,191.6L466.9,188.5L469.9,185.3L472.9,182.2L475.9,179.0L478.9,175.7L481.9,172.5L485.0,169.3L488.0,166.0L491.0,162.8L494.0,159.5L497.0,156.3L500.0,153.1L503.0,149.9L506.0,146.7L509.1,143.6L512.1,140.4L515.1,137.4L518.1,134.3" fill="none" stroke="#c0283a" stroke-width="1.4" stroke-linejoin="round"/>
<path d="M135.5,329.6L138.5,329.4L141.5,329.2L144.5,329.0L147.5,328.9L150.6,328.8L153.6,328.8L156.6,328.7L159.6,328.7L162.6,328.7L165.6,328.8L168.6,328.8L171.6,328.8L174.7,328.9L177.7,328.9L180.7,329.0L183.7,329.1L186.7,329.1L189.7,329.2L192.7,329.3L195.7,329.3L198.8,329.4L201.8,329.4L204.8,329.4L207.8,329.4L210.8,329.4L213.8,329.4L216.8,329.4L219.8,329.3L222.9,329.2L225.9,329.0L228.9,328.9L231.9,328.7L234.9,328.4L237.9,328.2L240.9,327.9L243.9,327.5L247.0,327.1L250.0,326.7L253.0,326.2L256.0,325.6L259.0,325.0L262.0,324.3L265.0,323.6L268.0,322.8L271.1,322.0L274.1,321.0L277.1,320.0L280.1,319.0L283.1,317.8L286.1,316.6L289.1,315.3L292.1,313.9L295.2,312.4L298.2,310.8L301.2,309.1L304.2,307.4L307.2,305.5L310.2,303.6L313.2,301.6L316.2,299.5L319.2,297.3L322.3,295.0L325.3,292.7L328.3,290.3L331.3,287.8L334.3,285.2L337.3,282.5L340.3,279.8L343.3,277.0L346.4,274.1L349.4,271.1L352.4,268.1L355.4,265.0L358.4,261.8L361.4,258.6L364.4,255.4L367.4,252.1L370.5,248.8L373.5,245.5L376.5,242.2L379.5,238.8L382.5,235.5L385.5,232.2L388.5,229.0L391.5,225.8L394.6,222.5L397.6,219.3L400.6,216.1L403.6,212.8L406.6,209.4L409.6,206.0L412.6,202.4L415.6,198.7L418.7,194.8L421.7,190.8L424.7,186.6L427.7,182.2L430.7,177.7L433.7,173.0L436.7,168.2L439.7,163.4L442.8,158.5L445.8,153.6L448.8,148.7L451.8,143.8L454.8,138.8L457.8,133.9L460.8,128.9L463.8,124.0L466.9,119.0L469.9,114.1L472.9,109.1L475.9,104.1L478.9,99.1L481.9,94.0L484.9,88.8L487.9,83.6L491.0,78.3L494.0,72.9L497.0,67.4L500.0,61.8L503.0,56.1" fill="none" stroke="#8059a4" stroke-width="1.4" stroke-linejoin="round"/>
</g>
<line x1="135.5" y1="64.4" x2="135.5" y2="364.0" stroke="#474747" stroke-width="1.1"/>
<line x1="135.0" y1="363.5" x2="521.0" y2="363.5" stroke="#474747" stroke-width="1.1"/>
<line x1="133.0" y1="78.2" x2="135.5" y2="78.2" stroke="#555" stroke-width="0.8"/>
<text x="131.3" y="83.5" font-size="14.7" fill="#1a1a1a" text-anchor="end" >10</text>
<line x1="133.0" y1="125.3" x2="135.5" y2="125.3" stroke="#555" stroke-width="0.8"/>
<text x="131.3" y="130.6" font-size="14.7" fill="#1a1a1a" text-anchor="end" >8</text>
<line x1="133.0" y1="173.6" x2="135.5" y2="173.6" stroke="#555" stroke-width="0.8"/>
<text x="131.3" y="178.9" font-size="14.7" fill="#1a1a1a" text-anchor="end" >6</text>
<line x1="133.0" y1="226.3" x2="135.5" y2="226.3" stroke="#555" stroke-width="0.8"/>
<text x="131.3" y="231.6" font-size="14.7" fill="#1a1a1a" text-anchor="end" >4</text>
<line x1="133.0" y1="274.0" x2="135.5" y2="274.0" stroke="#555" stroke-width="0.8"/>
<text x="131.3" y="279.3" font-size="14.7" fill="#1a1a1a" text-anchor="end" >2</text>
<line x1="133.0" y1="325.1" x2="135.5" y2="325.1" stroke="#555" stroke-width="0.8"/>
<text x="131.3" y="330.4" font-size="14.7" fill="#1a1a1a" text-anchor="end" >0</text>
<line x1="200.4" y1="363.5" x2="200.4" y2="366.0" stroke="#555" stroke-width="0.8"/>
<text x="200.4" y="379.6" font-size="14.7" fill="#1a1a1a" text-anchor="middle" >−10</text>
<line x1="295.5" y1="363.5" x2="295.5" y2="366.0" stroke="#555" stroke-width="0.8"/>
<text x="295.5" y="379.6" font-size="14.7" fill="#1a1a1a" text-anchor="middle" >0</text>
<line x1="390.3" y1="363.5" x2="390.3" y2="366.0" stroke="#555" stroke-width="0.8"/>
<text x="390.3" y="379.6" font-size="14.7" fill="#1a1a1a" text-anchor="middle" >10</text>
<line x1="484.5" y1="363.5" x2="484.5" y2="366.0" stroke="#555" stroke-width="0.8"/>
<text x="484.5" y="379.6" font-size="14.7" fill="#1a1a1a" text-anchor="middle" >20</text>
<text x="237.4" y="45.8" font-size="17" fill="#222" font-weight="bold" textLength="181" lengthAdjust="spacingAndGlyphs" >Biomarkers of interest</text>
<text x="0.9" y="68.8" font-size="17.4" fill="#222" font-weight="bold" >A)</text>
<text x="72.8" y="213.5" font-size="17" fill="#111" font-weight="bold" text-anchor="middle" textLength="185" lengthAdjust="spacingAndGlyphs" transform="rotate(-90 72.8 213.5)" >Biomarker abnormality</text>
<text x="92.8" y="213.5" font-size="17" fill="#111" font-weight="bold" text-anchor="middle" transform="rotate(-90 92.8 213.5)" >(Z-score)</text>
<text x="224.6" y="401.5" font-size="17" fill="#111" font-weight="bold" textLength="206.2" lengthAdjust="spacingAndGlyphs" >Estimated Aβ-PET+ years</text>
<line x1="527.5" y1="74.9" x2="539.6" y2="74.9" stroke="#8059a4" stroke-width="1.4"/>
<text x="551.8" y="79.2" font-size="17" fill="#1a1a1a" >Tau−PET</text>
<line x1="527.5" y1="123.6" x2="539.6" y2="123.6" stroke="#c0283a" stroke-width="1.4"/>
<text x="551.8" y="128.0" font-size="17" fill="#1a1a1a" >MTBR-tau243</text>
<line x1="527.5" y1="169.2" x2="539.6" y2="169.2" stroke="#f39c2d" stroke-width="1.4"/>
<text x="551.8" y="173.6" font-size="17" fill="#1a1a1a" textLength="77.5" lengthAdjust="spacingAndGlyphs" >%p-tau217</text>
<line x1="527.5" y1="205.6" x2="539.6" y2="205.6" stroke="#3a5fae" stroke-width="1.4" stroke-dasharray="4,3.6"/>
<text x="551.8" y="209.5" font-size="17" fill="#1a1a1a" >Aβ42/40 ratio</text>
<line x1="527.5" y1="226.6" x2="539.6" y2="226.6" stroke="#5aad4f" stroke-width="1.4"/>
<text x="551.8" y="230.9" font-size="17" fill="#1a1a1a" textLength="77.5" lengthAdjust="spacingAndGlyphs" >%p-tau205</text>
<line x1="527.5" y1="251.7" x2="539.6" y2="251.7" stroke="#8a5a2c" stroke-width="1.4"/>
<text x="551.8" y="256.2" font-size="17" fill="#1a1a1a" >np-tau mid-region</text>
<line x1="527.5" y1="282.6" x2="539.6" y2="282.6" stroke="#2ba6dc" stroke-width="1.4"/>
<text x="553.5" y="287.9" font-size="17" fill="#1a1a1a" textLength="52.0" lengthAdjust="spacingAndGlyphs" >mPACC</text>
<line x1="55.5" y1="435.0" x2="283.8" y2="435.0" stroke="#e9e9e9" stroke-width="0.7"/>
<line x1="55.5" y1="480.5" x2="283.8" y2="480.5" stroke="#e9e9e9" stroke-width="0.7"/>
<line x1="55.5" y1="526.4" x2="283.8" y2="526.4" stroke="#e9e9e9" stroke-width="0.7"/>
<line x1="55.5" y1="571.1" x2="283.8" y2="571.1" stroke="#e9e9e9" stroke-width="0.7"/>
<line x1="94.4" y1="427.8" x2="94.4" y2="601.5" stroke="#e9e9e9" stroke-width="0.7"/>
<line x1="150.5" y1="427.8" x2="150.5" y2="601.5" stroke="#e9e9e9" stroke-width="0.7"/>
<line x1="206.6" y1="427.8" x2="206.6" y2="601.5" stroke="#e9e9e9" stroke-width="0.7"/>
<line x1="262.8" y1="427.8" x2="262.8" y2="601.5" stroke="#e9e9e9" stroke-width="0.7"/>
<clipPath id="clipB"><rect x="55.5" y="427.8" width="226.4" height="173.7"/></clipPath>
<g clip-path="url(#clipB)">
<path d="M55.8,568.6L58.8,568.8L61.8,569.0L64.8,569.1L67.8,569.1L70.9,569.1L73.9,569.1L76.9,569.0L79.9,569.0L82.9,569.0L85.9,569.1L88.9,569.2L91.9,569.4L95.0,569.7L98.0,570.0L101.0,570.4L104.0,570.9L107.0,571.4L110.0,571.9L113.0,572.2L116.0,572.4L119.1,572.2L122.1,571.7L125.1,571.0L128.1,570.2L131.1,569.2L134.1,568.1L137.1,567.1L140.1,566.0L143.1,565.0L146.2,564.0L149.2,563.1L152.2,562.2L155.2,561.4L158.2,560.7L161.2,560.0L164.2,559.3L167.2,558.7L170.3,558.1L173.3,557.6L176.3,557.1L179.3,556.6L182.3,556.2L185.3,555.8L188.3,555.4L191.3,555.1L194.4,554.8L197.4,554.5L200.4,554.3L203.4,554.1L206.4,553.8L209.4,553.1L212.4,552.4L215.4,551.7L218.4,551.0L221.5,550.3L224.5,549.7L227.5,549.1L230.5,548.4L233.5,547.8L236.5,547.2L239.5,546.6L242.5,546.1L245.6,545.5L248.6,544.9L251.6,544.3L254.6,543.8L257.6,543.2L260.6,542.6L263.6,542.1L266.6,541.5L269.7,540.9L272.7,540.3L275.7,539.7L278.7,539.1L281.7,538.5 L281.7,586.4L278.7,585.6L275.7,584.9L272.7,584.1L269.7,583.4L266.6,582.6L263.6,581.8L260.6,581.1L257.6,580.3L254.6,579.5L251.6,578.7L248.6,578.0L245.6,577.2L242.5,576.4L239.5,575.6L236.5,574.9L233.5,574.1L230.5,573.4L227.5,572.7L224.5,572.0L221.5,571.3L218.4,570.6L215.4,569.9L212.4,569.2L209.4,568.6L206.4,568.0L203.4,567.9L200.4,567.9L197.4,567.9L194.4,568.0L191.3,568.0L188.3,568.2L185.3,568.3L182.3,568.5L179.3,568.7L176.3,568.9L173.3,569.2L170.3,569.5L167.2,569.9L164.2,570.3L161.2,570.8L158.2,571.3L155.2,571.8L152.2,572.4L149.2,573.1L146.2,573.8L143.1,574.5L140.1,575.3L137.1,576.2L134.1,577.1L131.1,577.9L128.1,578.7L125.1,579.4L122.1,579.9L119.1,580.2L116.0,580.4L113.0,580.2L110.0,579.9L107.0,579.4L104.0,578.9L101.0,578.4L98.0,578.0L95.0,577.7L91.9,577.4L88.9,577.2L85.9,577.1L82.9,577.0L79.9,577.0L76.9,577.0L73.9,577.1L70.9,577.1L67.8,577.1L64.8,577.1L61.8,577.0L58.8,576.8L55.8,576.6 Z" fill="#8a9a9a" fill-opacity="0.08" stroke="none"/>
<path d="M55.8,568.8L58.8,568.6L61.8,568.4L64.8,568.2L67.8,568.1L70.9,568.0L73.9,567.9L76.9,568.0L79.9,568.1L82.9,568.2L85.9,568.5L88.9,568.9L91.9,569.4L95.0,570.0L98.0,570.7L101.0,571.5L104.0,572.3L107.0,573.1L110.0,573.9L113.0,574.7L116.0,575.4L119.1,576.0L122.1,576.5L125.1,576.8L128.1,576.9L131.1,577.0L134.1,577.0L137.1,576.9L140.1,576.7L143.1,576.6L146.2,576.4L149.2,576.2L152.2,576.1L155.2,575.9L158.2,575.8L161.2,575.8L164.2,575.7L167.2,575.7L170.3,575.8L173.3,575.9L176.3,576.0L179.3,576.1L182.3,576.3L185.3,576.5L188.3,576.7L191.3,577.0L194.4,577.3L197.4,577.5L200.4,577.9L203.4,578.2L206.4,578.5L209.4,578.6L212.4,578.6L215.4,578.7L218.4,578.8L221.5,578.9L224.5,579.0L227.5,579.1L230.5,579.2L233.5,579.4L236.5,579.5L239.5,579.6L242.5,579.7L245.6,579.8L248.6,579.9L251.6,580.0L254.6,580.0L257.6,580.1L260.6,580.1L263.6,580.2L266.6,580.2L269.7,580.2L272.7,580.1L275.7,580.1L278.7,580.0L281.7,579.9 L281.7,619.8L278.7,618.9L275.7,618.1L272.7,617.2L269.7,616.3L266.6,615.3L263.6,614.4L260.6,613.4L257.6,612.4L254.6,611.4L251.6,610.4L248.6,609.3L245.6,608.3L242.5,607.2L239.5,606.2L236.5,605.1L233.5,604.0L230.5,603.0L227.5,601.9L224.5,600.8L221.5,599.8L218.4,598.7L215.4,597.7L212.4,596.7L209.4,595.6L206.4,594.6L203.4,593.9L200.4,593.3L197.4,592.6L194.4,592.0L191.3,591.4L188.3,590.8L185.3,590.3L182.3,589.8L179.3,589.3L176.3,588.8L173.3,588.4L170.3,588.0L167.2,587.6L164.2,587.3L161.2,587.0L158.2,586.7L155.2,586.5L152.2,586.3L149.2,586.2L146.2,586.1L143.1,586.1L140.1,586.1L137.1,586.0L134.1,585.9L131.1,585.7L128.1,585.5L125.1,585.1L122.1,584.6L119.1,584.0L116.0,583.4L113.0,582.7L110.0,581.9L107.0,581.1L104.0,580.3L101.0,579.5L98.0,578.7L95.0,578.0L91.9,577.4L88.9,576.9L85.9,576.5L82.9,576.2L79.9,576.1L76.9,576.0L73.9,575.9L70.9,576.0L67.8,576.1L64.8,576.2L61.8,576.4L58.8,576.6L55.8,576.8 Z" fill="#8a9a9a" fill-opacity="0.08" stroke="none"/>
<path d="M55.8,573.2L58.8,573.2L61.8,573.1L64.9,572.9L67.9,572.6L70.9,572.1L73.9,571.6L76.9,570.9L79.9,570.1L83.0,569.3L86.0,568.3L89.0,567.2L92.0,566.0L95.0,564.7L98.1,563.3L101.1,561.8L104.1,560.3L107.1,558.6L110.1,556.9L113.2,555.0L116.2,553.1L119.2,551.1L122.2,549.0L125.2,546.8L128.2,544.6L131.3,542.3L134.3,539.9L137.3,537.5L140.3,535.0L143.3,532.5L146.4,530.0L149.4,527.4L152.4,524.7L155.4,522.0L158.4,519.3L161.5,516.5L164.5,513.8L167.5,511.1L170.5,508.4L173.5,505.7L176.5,503.0L179.6,500.3L182.6,497.7L185.6,495.1L188.6,492.6L191.6,490.1L194.7,487.6L197.7,485.2L200.7,482.9L203.7,480.6L206.7,478.3L209.8,475.9L212.8,473.6L215.8,471.3L218.8,469.1L221.8,467.0L224.8,465.0L227.9,463.1L230.9,461.3L233.9,459.5L236.9,457.9L239.9,456.3L243.0,454.5L246.0,452.7L249.0,451.1L252.0,449.5L255.0,448.1L258.1,446.8L261.1,445.6L264.1,444.5L267.1,443.5L270.1,442.6L273.1,441.9L276.2,441.2L279.2,440.7L282.2,440.3 L282.2,474.3L279.2,473.6L276.2,473.0L273.1,472.5L270.1,472.1L267.1,471.8L264.1,471.7L261.1,471.6L258.1,471.7L255.0,471.8L252.0,472.1L249.0,472.5L246.0,473.0L243.0,473.6L239.9,474.3L236.9,475.3L233.9,476.4L230.9,477.6L227.9,478.9L224.8,480.3L221.8,481.8L218.8,483.4L215.8,485.0L212.8,486.8L209.8,488.6L206.7,490.5L203.7,492.4L200.7,494.5L197.7,496.6L194.7,498.8L191.6,501.1L188.6,503.3L185.6,505.7L182.6,508.0L179.6,510.4L176.5,512.9L173.5,515.3L170.5,517.8L167.5,520.3L164.5,522.8L161.5,525.4L158.4,527.9L155.4,530.4L152.4,532.9L149.4,535.5L146.4,538.2L143.3,541.0L140.3,543.7L137.3,546.4L134.3,549.0L131.3,551.5L128.2,554.0L125.2,556.5L122.2,558.8L119.2,561.1L116.2,563.3L113.2,565.4L110.1,567.5L107.1,569.4L104.1,571.2L101.1,573.0L98.1,574.7L95.0,576.2L92.0,577.7L89.0,579.1L86.0,580.4L83.0,581.5L79.9,582.6L76.9,583.6L73.9,584.4L70.9,585.2L67.9,585.8L64.9,586.3L61.8,586.7L58.8,587.0L55.8,587.2 Z" fill="#f7c98a" fill-opacity="0.15" stroke="none"/>
<path d="M55.8,567.7L58.8,567.4L61.8,567.1L64.9,566.6L67.9,566.0L70.9,565.4L73.9,564.6L76.9,563.8L79.9,562.9L83.0,561.9L86.0,560.8L89.0,559.6L92.0,558.4L95.0,557.1L98.1,555.7L101.1,554.3L104.1,552.9L107.1,551.4L110.1,549.9L113.2,548.4L116.2,546.8L119.2,545.1L122.2,543.5L125.2,541.8L128.2,540.1L131.3,538.3L134.3,536.6L137.3,534.8L140.3,533.1L143.3,531.3L146.4,529.5L149.4,527.8L152.4,525.8L155.4,523.9L158.4,521.9L161.5,520.0L164.5,518.1L167.5,516.2L170.5,514.3L173.5,512.5L176.5,510.7L179.6,509.0L182.6,507.3L185.6,505.6L188.6,504.0L191.6,502.5L194.7,501.0L197.7,499.5L200.7,498.1L203.7,496.8L206.7,495.4L209.8,494.1L212.8,492.7L215.8,491.4L218.8,490.2L221.8,489.1L224.8,488.0L227.9,487.0L230.9,486.0L233.9,485.1L236.9,484.1L239.9,482.9L243.0,481.8L246.0,480.8L249.0,479.8L252.0,479.0L255.0,478.2L258.1,477.5L261.1,476.8L264.1,476.3L267.1,475.9L270.1,475.5L273.1,475.2L276.2,475.1L279.2,475.0L282.2,475.0 L282.2,520.0L279.2,518.2L276.2,516.5L273.1,514.8L270.1,513.2L267.1,511.7L264.1,510.3L261.1,508.9L258.1,507.7L255.0,506.5L252.0,505.5L249.0,504.5L246.0,503.5L243.0,502.7L239.9,501.9L236.9,501.2L233.9,500.9L230.9,501.2L227.9,501.5L224.8,501.9L221.8,502.4L218.8,502.9L215.8,503.5L212.8,504.1L209.8,504.8L206.7,505.6L203.7,506.7L200.7,507.9L197.7,509.2L194.7,510.6L191.6,512.0L188.6,513.4L185.6,514.9L182.6,516.5L179.6,518.0L176.5,519.7L173.5,521.3L170.5,523.0L167.5,524.8L164.5,526.6L161.5,528.4L158.4,530.2L155.4,532.1L152.4,533.9L149.4,535.8L146.4,537.8L143.3,539.7L140.3,541.7L137.3,543.6L134.3,545.5L131.3,547.5L128.2,549.4L125.2,551.3L122.2,553.1L119.2,555.0L116.2,556.8L113.2,558.6L110.1,560.3L107.1,562.0L104.1,563.7L101.1,565.3L98.1,566.9L95.0,568.4L92.0,569.9L89.0,571.4L86.0,572.7L83.0,574.0L79.9,575.2L76.9,576.3L73.9,577.4L70.9,578.3L67.9,579.2L64.9,579.9L61.8,580.6L58.8,581.2L55.8,581.6 Z" fill="#d5558a" fill-opacity="0.25" stroke="none"/>
</g>
<line x1="55.5" y1="526.6" x2="283.8" y2="526.6" stroke="#ee6870" stroke-width="1.6" stroke-dasharray="3.2,2.3"/>
<line x1="150.5" y1="428.6" x2="150.5" y2="601.5" stroke="#111" stroke-width="1.0" stroke-dasharray="2.6,2"/>
<clipPath id="clipB2"><rect x="55.5" y="427.8" width="226.4" height="173.7"/></clipPath>
<g clip-path="url(#clipB2)">
<path d="M55.8,572.6L58.8,572.7L61.8,572.8L64.8,572.9L67.8,572.9L70.9,573.0L73.9,573.1L76.9,573.2L79.9,573.3L82.9,573.3L85.9,573.4L88.9,573.4L91.9,573.5L95.0,573.6L98.0,573.7L101.0,574.0L104.0,574.4L107.0,574.9L110.0,575.5L113.0,576.1L116.0,576.4L119.1,576.3L122.1,576.0L125.1,575.4L128.1,574.6L131.1,573.7L134.1,572.7L137.1,571.7L140.1,570.6L143.1,569.7L146.2,568.8L149.2,568.0L152.2,567.2L155.2,566.5L158.2,565.8L161.2,565.2L164.2,564.7L167.2,564.1L170.3,563.7L173.3,563.3L176.3,562.9L179.3,562.6L182.3,562.3L185.3,562.0L188.3,561.8L191.3,561.6L194.4,561.4L197.4,561.3L200.4,561.2L203.4,561.1L206.4,561.0L209.4,561.0L212.4,560.9L215.4,560.9L218.4,560.9L221.5,560.9L224.5,560.9L227.5,561.0L230.5,561.0L233.5,561.0L236.5,561.1L239.5,561.2L242.5,561.2L245.6,561.3L248.6,561.4L251.6,561.5L254.6,561.6L257.6,561.7L260.6,561.8L263.6,561.9L266.6,562.0L269.7,562.1L272.7,562.2L275.7,562.3L278.7,562.4L281.7,562.4" fill="none" stroke="#b4b4b4" stroke-width="1.1" stroke-linejoin="round"/>
<path d="M55.8,572.7L58.8,572.7L61.8,572.6L64.8,572.5L67.8,572.4L70.9,572.3L73.9,572.2L76.9,572.1L79.9,572.1L82.9,572.2L85.9,572.4L88.9,572.8L91.9,573.2L95.0,573.8L98.0,574.5L101.0,575.3L104.0,576.1L107.0,577.0L110.0,577.9L113.0,578.7L116.0,579.5L119.1,580.2L122.1,580.8L125.1,581.2L128.1,581.4L131.1,581.6L134.1,581.6L137.1,581.6L140.1,581.5L143.1,581.4L146.2,581.3L149.2,581.2L152.2,581.1L155.2,581.1L158.2,581.1L161.2,581.2L164.2,581.3L167.2,581.5L170.3,581.7L173.3,582.0L176.3,582.3L179.3,582.6L182.3,583.0L185.3,583.4L188.3,583.8L191.3,584.2L194.4,584.7L197.4,585.2L200.4,585.7L203.4,586.2L206.4,586.7L209.4,587.2L212.4,587.8L215.4,588.3L218.4,588.9L221.5,589.4L224.5,590.0L227.5,590.6L230.5,591.2L233.5,591.7L236.5,592.3L239.5,592.9L242.5,593.4L245.6,594.0L248.6,594.5L251.6,595.1L254.6,595.6L257.6,596.1L260.6,596.7L263.6,597.2L266.6,597.7L269.7,598.1L272.7,598.6L275.7,599.0L278.7,599.5L281.7,599.9" fill="none" stroke="#141414" stroke-width="1.5" stroke-linejoin="round"/>
<path d="M55.8,575.4L58.8,575.1L61.8,574.6L64.9,574.1L67.9,573.4L70.9,572.7L73.9,571.8L76.9,570.9L79.9,569.8L83.0,568.7L86.0,567.5L89.0,566.2L92.0,564.9L95.0,563.4L98.1,562.0L101.1,560.4L104.1,558.8L107.1,557.1L110.1,555.4L113.2,553.7L116.2,551.9L119.2,550.1L122.2,548.2L125.2,546.3L128.2,544.4L131.3,542.5L134.3,540.6L137.3,538.6L140.3,536.6L143.3,534.7L146.4,532.7L149.4,530.8L152.4,528.8L155.4,526.9L158.4,524.9L161.5,523.0L164.5,521.2L167.5,519.3L170.5,517.5L173.5,515.7L176.5,514.0L179.6,512.3L182.6,510.7L185.6,509.1L188.6,507.5L191.6,506.0L194.7,504.6L197.7,503.2L200.7,501.9L203.7,500.6L206.7,499.4L209.8,498.2L212.8,497.2L215.8,496.2L218.8,495.2L221.8,494.4L224.8,493.6L227.9,492.9L230.9,492.3L233.9,491.7L236.9,491.2L239.9,490.9L243.0,490.6L246.0,490.4L249.0,490.3L252.0,490.3L255.0,490.4L258.1,490.6L261.1,490.9L264.1,491.3L267.1,491.8L270.1,492.4L273.1,493.1L276.2,494.0L279.2,494.9L282.2,496.0" fill="none" stroke="#f2a8c2" stroke-width="1.2" stroke-linejoin="round"/>
<path d="M55.8,578.9L58.8,579.0L61.8,578.9L64.9,578.7L67.9,578.4L70.9,577.9L73.9,577.3L76.9,576.6L79.9,575.7L83.0,574.7L86.0,573.6L89.0,572.4L92.0,571.1L95.0,569.7L98.1,568.2L101.1,566.6L104.1,564.9L107.1,563.2L110.1,561.3L113.2,559.4L116.2,557.4L119.2,555.3L122.2,553.2L125.2,551.1L128.2,548.8L131.3,546.6L134.3,544.2L137.3,541.9L140.3,539.5L143.3,537.1L146.4,534.6L149.4,532.2L152.4,529.7L155.4,527.2L158.4,524.7L161.5,522.2L164.5,519.7L167.5,517.2L170.5,514.8L173.5,512.3L176.5,509.8L179.6,507.4L182.6,505.0L185.6,502.7L188.6,500.3L191.6,498.1L194.7,495.8L197.7,493.6L200.7,491.4L203.7,489.3L206.7,487.3L209.8,485.3L212.8,483.4L215.8,481.5L218.8,479.7L221.8,478.0L224.8,476.4L227.9,474.8L230.9,473.4L233.9,472.0L236.9,470.7L239.9,469.5L243.0,468.4L246.0,467.4L249.0,466.5L252.0,465.8L255.0,465.1L258.1,464.6L261.1,464.1L264.1,463.8L267.1,463.7L270.1,463.6L273.1,463.7L276.2,464.0L279.2,464.4L282.2,464.9" fill="none" stroke="#e07aaa" stroke-width="1.2" stroke-linejoin="round"/>
<path d="M55.8,577.2L58.8,577.2L61.8,577.1L64.9,576.9L67.9,576.6L70.9,576.1L73.9,575.6L76.9,574.9L79.9,574.1L83.0,573.3L86.0,572.3L89.0,571.2L92.0,570.0L95.0,568.7L98.1,567.3L101.1,565.8L104.1,564.3L107.1,562.6L110.1,560.9L113.2,559.0L116.2,557.1L119.2,555.1L122.2,553.0L125.2,550.8L128.2,548.6L131.3,546.3L134.3,543.9L137.3,541.5L140.3,539.0L143.3,536.5L146.4,534.0L149.4,531.4L152.4,528.8L155.4,526.2L158.4,523.6L161.5,520.9L164.5,518.3L167.5,515.7L170.5,513.1L173.5,510.5L176.5,507.9L179.6,505.4L182.6,502.9L185.6,500.4L188.6,498.0L191.6,495.6L194.7,493.2L197.7,490.9L200.7,488.7L203.7,486.5L206.7,484.4L209.8,482.4L212.8,480.4L215.8,478.5L218.8,476.6L221.8,474.9L224.8,473.2L227.9,471.7L230.9,470.2L233.9,468.8L236.9,467.5L239.9,466.3L243.0,465.3L246.0,464.3L249.0,463.4L252.0,462.7L255.0,462.1L258.1,461.5L261.1,461.1L264.1,460.8L267.1,460.6L270.1,460.5L273.1,460.6L276.2,460.7L279.2,461.0L282.2,461.3" fill="none" stroke="#f5c518" stroke-width="1.4" stroke-linejoin="round"/>
<path d="M55.8,576.6L58.8,576.2L61.8,575.8L64.9,575.2L67.9,574.5L70.9,573.7L73.9,572.8L76.9,571.8L79.9,570.8L83.0,569.6L86.0,568.4L89.0,567.1L92.0,565.7L95.0,564.3L98.1,562.8L101.1,561.3L104.1,559.7L107.1,558.0L110.1,556.3L113.2,554.6L116.2,552.8L119.2,551.0L122.2,549.1L125.2,547.3L128.2,545.4L131.3,543.5L134.3,541.5L137.3,539.6L140.3,537.7L143.3,535.7L146.4,533.8L149.4,531.8L152.4,529.9L155.4,528.0L158.4,526.1L161.5,524.2L164.5,522.3L167.5,520.5L170.5,518.7L173.5,516.9L176.5,515.2L179.6,513.5L182.6,511.9L185.6,510.3L188.6,508.7L191.6,507.2L194.7,505.8L197.7,504.4L200.7,503.0L203.7,501.7L206.7,500.5L209.8,499.3L212.8,498.2L215.8,497.1L218.8,496.1L221.8,495.2L224.8,494.3L227.9,493.5L230.9,492.7L233.9,492.1L236.9,491.5L239.9,490.9L243.0,490.5L246.0,490.1L249.0,489.8L252.0,489.6L255.0,489.4L258.1,489.4L261.1,489.4L264.1,489.5L267.1,489.7L270.1,490.0L273.1,490.3L276.2,490.8L279.2,491.4L282.2,492.0" fill="none" stroke="#d8385e" stroke-width="1.3" stroke-linejoin="round"/>
<path d="M55.8,578.9L58.8,578.7L61.8,578.4L64.9,577.9L67.9,577.3L70.9,576.6L73.9,575.8L76.9,574.9L79.9,573.9L83.0,572.8L86.0,571.7L89.0,570.4L92.0,569.1L95.0,567.7L98.1,566.2L101.1,564.6L104.1,563.0L107.1,561.4L110.1,559.7L113.2,557.9L116.2,556.1L119.2,554.3L122.2,552.4L125.2,550.5L128.2,548.6L131.3,546.7L134.3,544.7L137.3,542.7L140.3,540.8L143.3,538.8L146.4,536.8L149.4,534.9L152.4,532.9L155.4,531.0L158.4,529.1L161.5,527.2L164.5,525.3L167.5,523.5L170.5,521.7L173.5,520.0L176.5,518.3L179.6,516.7L182.6,515.1L185.6,513.5L188.6,512.0L191.6,510.6L194.7,509.2L197.7,507.9L200.7,506.6L203.7,505.4L206.7,504.2L209.8,503.1L212.8,502.0L215.8,501.1L218.8,500.1L221.8,499.3L224.8,498.5L227.9,497.7L230.9,497.0L233.9,496.4L236.9,495.9L239.9,495.4L243.0,495.0L246.0,494.6L249.0,494.4L252.0,494.2L255.0,494.0L258.1,494.0L261.1,494.0L264.1,494.1L267.1,494.2L270.1,494.5L273.1,494.8L276.2,495.2L279.2,495.7L282.2,496.2" fill="none" stroke="#7a1c55" stroke-width="1.3" stroke-linejoin="round"/>
</g>
<line x1="55.5" y1="427.8" x2="55.5" y2="602.0" stroke="#555" stroke-width="1.0"/>
<line x1="55.0" y1="601.5" x2="283.8" y2="601.5" stroke="#555" stroke-width="1.0"/>
<line x1="53.5" y1="435.0" x2="55.5" y2="435.0" stroke="#666" stroke-width="0.6"/>
<text x="52.6" y="438.0" font-size="8.3" fill="#444" text-anchor="end" >6</text>
<line x1="53.5" y1="480.5" x2="55.5" y2="480.5" stroke="#666" stroke-width="0.6"/>
<text x="52.6" y="483.5" font-size="8.3" fill="#444" text-anchor="end" >4</text>
<line x1="53.5" y1="526.4" x2="55.5" y2="526.4" stroke="#666" stroke-width="0.6"/>
<text x="52.6" y="529.4" font-size="8.3" fill="#444" text-anchor="end" >2</text>
<line x1="53.5" y1="571.1" x2="55.5" y2="571.1" stroke="#666" stroke-width="0.6"/>
<text x="52.6" y="574.1" font-size="8.3" fill="#444" text-anchor="end" >0</text>
<line x1="94.4" y1="601.5" x2="94.4" y2="603.5" stroke="#666" stroke-width="0.6"/>
<text x="94.4" y="612.2" font-size="8.3" fill="#444" text-anchor="middle" >−10</text>
<line x1="150.5" y1="601.5" x2="150.5" y2="603.5" stroke="#666" stroke-width="0.6"/>
<text x="150.5" y="612.2" font-size="8.3" fill="#444" text-anchor="middle" >0</text>
<line x1="206.6" y1="601.5" x2="206.6" y2="603.5" stroke="#666" stroke-width="0.6"/>
<text x="206.6" y="612.2" font-size="8.3" fill="#444" text-anchor="middle" >10</text>
<line x1="262.8" y1="601.5" x2="262.8" y2="603.5" stroke="#666" stroke-width="0.6"/>
<text x="262.8" y="612.2" font-size="8.3" fill="#444" text-anchor="middle" >20</text>
<text x="1.4" y="437.1" font-size="17.4" fill="#222" font-weight="bold" >B)</text>
<text x="116.8" y="421.9" font-size="12.7" fill="#333" font-weight="bold" textLength="106.2" lengthAdjust="spacingAndGlyphs" >Other biomarkers</text>
<text x="18.0" y="517.3" font-size="8.5" fill="#111" font-weight="bold" text-anchor="middle" textLength="93" lengthAdjust="spacingAndGlyphs" transform="rotate(-90 18.0 517.3)" >Biomarker abnormality</text>
<text x="28.0" y="517.3" font-size="8.5" fill="#111" font-weight="bold" text-anchor="middle" transform="rotate(-90 28.0 517.3)" >(Z-score)</text>
<text x="109.4" y="629.6" font-size="10" fill="#111" font-weight="bold" textLength="120.4" lengthAdjust="spacingAndGlyphs" >Estimated Aβ-PET+ years</text>
<line x1="287.2" y1="459.8" x2="291.8" y2="459.8" stroke="#f5c518" stroke-width="1.6"/>
<text x="294.4" y="462.7" font-size="8.1" fill="#222" textLength="38.6" lengthAdjust="spacingAndGlyphs" >%p-tau153</text>
<line x1="287.2" y1="470.8" x2="291.8" y2="470.8" stroke="#e07aaa" stroke-width="1.6"/>
<text x="294.4" y="473.7" font-size="8.1" fill="#222" textLength="38.6" lengthAdjust="spacingAndGlyphs" >%p-tau111</text>
<line x1="287.2" y1="489.8" x2="291.8" y2="489.8" stroke="#d8385e" stroke-width="1.6"/>
<text x="294.4" y="492.7" font-size="8.1" fill="#222" textLength="38.6" lengthAdjust="spacingAndGlyphs" >%p-tau208</text>
<line x1="287.2" y1="499.7" x2="291.8" y2="499.7" stroke="#f2a8c2" stroke-width="1.6"/>
<text x="294.4" y="502.6" font-size="8.1" fill="#222" textLength="38.6" lengthAdjust="spacingAndGlyphs" >%p-tau181</text>
<line x1="287.2" y1="509.5" x2="291.8" y2="509.5" stroke="#7a1c55" stroke-width="1.6"/>
<text x="294.4" y="512.4" font-size="8.1" fill="#222" textLength="38.6" lengthAdjust="spacingAndGlyphs" >%p-tau231</text>
<line x1="287.2" y1="563.7" x2="291.8" y2="563.7" stroke="#b4b4b4" stroke-width="1.6"/>
<text x="294.4" y="566.6" font-size="8.1" fill="#222" textLength="38.6" lengthAdjust="spacingAndGlyphs" >%p-tau199</text>
<line x1="287.2" y1="595.3" x2="291.8" y2="595.3" stroke="#141414" stroke-width="1.6"/>
<text x="294.4" y="598.2" font-size="8.1" fill="#222" textLength="38.6" lengthAdjust="spacingAndGlyphs" >%p-tau202</text>
<line x1="360.8" y1="425.5" x2="360.8" y2="603.0" stroke="#e9e9e9" stroke-width="0.7"/>
<line x1="438.4" y1="425.5" x2="438.4" y2="603.0" stroke="#e9e9e9" stroke-width="0.7"/>
<line x1="477.2" y1="425.5" x2="477.2" y2="603.0" stroke="#e9e9e9" stroke-width="0.7"/>
<line x1="516.0" y1="425.5" x2="516.0" y2="603.0" stroke="#e9e9e9" stroke-width="0.7"/>
<line x1="554.8" y1="425.5" x2="554.8" y2="603.0" stroke="#e9e9e9" stroke-width="0.7"/>
<line x1="593.6" y1="425.5" x2="593.6" y2="603.0" stroke="#e9e9e9" stroke-width="0.7"/>
<line x1="360.4" y1="435.5" x2="607.5" y2="435.5" stroke="#e9e9e9" stroke-width="0.7"/>
<line x1="360.4" y1="452.9" x2="607.5" y2="452.9" stroke="#e9e9e9" stroke-width="0.7"/>
<line x1="360.4" y1="470.4" x2="607.5" y2="470.4" stroke="#e9e9e9" stroke-width="0.7"/>
<line x1="360.4" y1="488.0" x2="607.5" y2="488.0" stroke="#e9e9e9" stroke-width="0.7"/>
<line x1="360.4" y1="505.4" x2="607.5" y2="505.4" stroke="#e9e9e9" stroke-width="0.7"/>
<line x1="360.4" y1="523.1" x2="607.5" y2="523.1" stroke="#e9e9e9" stroke-width="0.7"/>
<line x1="360.4" y1="540.7" x2="607.5" y2="540.7" stroke="#e9e9e9" stroke-width="0.7"/>
<line x1="360.4" y1="558.1" x2="607.5" y2="558.1" stroke="#e9e9e9" stroke-width="0.7"/>
<line x1="360.4" y1="575.7" x2="607.5" y2="575.7" stroke="#e9e9e9" stroke-width="0.7"/>
<line x1="360.4" y1="593.3" x2="607.5" y2="593.3" stroke="#e9e9e9" stroke-width="0.7"/>
<line x1="399.6" y1="425.8" x2="399.6" y2="602.5" stroke="#e8434d" stroke-width="1.0" stroke-dasharray="1,1.3"/>
<line x1="385.5" y1="435.5" x2="403.3" y2="435.5" stroke="#f39c2d" stroke-width="1.3"/>
<line x1="385.5" y1="433.7" x2="385.5" y2="437.3" stroke="#f39c2d" stroke-width="1.0"/>
<line x1="403.3" y1="433.7" x2="403.3" y2="437.3" stroke="#f39c2d" stroke-width="1.0"/>
<circle cx="393.9" cy="435.5" r="2.6" fill="#f39c2d"/>
<text x="617.1" y="437.1" font-size="8.5" fill="#1a1a1a" >%p-tau217</text>
<line x1="398.6" y1="452.9" x2="421.2" y2="452.9" stroke="#e07aaa" stroke-width="1.3"/>
<line x1="398.6" y1="451.1" x2="398.6" y2="454.7" stroke="#e07aaa" stroke-width="1.0"/>
<line x1="421.2" y1="451.1" x2="421.2" y2="454.7" stroke="#e07aaa" stroke-width="1.0"/>
<circle cx="410.2" cy="452.9" r="2.6" fill="#e07aaa"/>
<text x="617.1" y="454.5" font-size="8.5" fill="#1a1a1a" >%p-tau111</text>
<line x1="397.3" y1="470.4" x2="427.5" y2="470.4" stroke="#d8385e" stroke-width="1.3"/>
<line x1="397.3" y1="468.6" x2="397.3" y2="472.2" stroke="#d8385e" stroke-width="1.0"/>
<line x1="427.5" y1="468.6" x2="427.5" y2="472.2" stroke="#d8385e" stroke-width="1.0"/>
<circle cx="411.0" cy="470.4" r="2.6" fill="#d8385e"/>
<text x="617.1" y="472.0" font-size="8.5" fill="#1a1a1a" >%p-tau208</text>
<line x1="399.4" y1="488.0" x2="426.7" y2="488.0" stroke="#f5c518" stroke-width="1.3"/>
<line x1="399.4" y1="486.2" x2="399.4" y2="489.8" stroke="#f5c518" stroke-width="1.0"/>
<line x1="426.7" y1="486.2" x2="426.7" y2="489.8" stroke="#f5c518" stroke-width="1.0"/>
<circle cx="414.1" cy="488.0" r="2.6" fill="#f5c518"/>
<text x="617.1" y="489.6" font-size="8.5" fill="#1a1a1a" >%p-tau153</text>
<line x1="403.3" y1="505.4" x2="425.4" y2="505.4" stroke="#f2a8c2" stroke-width="1.3"/>
<line x1="403.3" y1="503.6" x2="403.3" y2="507.2" stroke="#f2a8c2" stroke-width="1.0"/>
<line x1="425.4" y1="503.6" x2="425.4" y2="507.2" stroke="#f2a8c2" stroke-width="1.0"/>
<circle cx="414.6" cy="505.4" r="2.6" fill="#f2a8c2"/>
<text x="617.1" y="507.0" font-size="8.5" fill="#1a1a1a" >%p-tau181</text>
<line x1="406.2" y1="523.1" x2="428.3" y2="523.1" stroke="#7a1c55" stroke-width="1.3"/>
<line x1="406.2" y1="521.3" x2="406.2" y2="524.9" stroke="#7a1c55" stroke-width="1.0"/>
<line x1="428.3" y1="521.3" x2="428.3" y2="524.9" stroke="#7a1c55" stroke-width="1.0"/>
<circle cx="417.0" cy="523.1" r="2.6" fill="#7a1c55"/>
<text x="617.1" y="524.7" font-size="8.5" fill="#1a1a1a" >%p-tau231</text>
<line x1="429.3" y1="540.7" x2="456.7" y2="540.7" stroke="#5aad4f" stroke-width="1.3"/>
<line x1="429.3" y1="538.9" x2="429.3" y2="542.5" stroke="#5aad4f" stroke-width="1.0"/>
<line x1="456.7" y1="538.9" x2="456.7" y2="542.5" stroke="#5aad4f" stroke-width="1.0"/>
<circle cx="442.7" cy="540.7" r="2.6" fill="#5aad4f"/>
<text x="617.1" y="542.3" font-size="8.5" fill="#1a1a1a" >%p-tau205</text>
<line x1="441.2" y1="558.1" x2="466.6" y2="558.1" stroke="#c0283a" stroke-width="1.3"/>
<line x1="441.2" y1="556.3" x2="441.2" y2="559.9" stroke="#c0283a" stroke-width="1.0"/>
<line x1="466.6" y1="556.3" x2="466.6" y2="559.9" stroke="#c0283a" stroke-width="1.0"/>
<circle cx="452.5" cy="558.1" r="2.6" fill="#c0283a"/>
<text x="617.1" y="559.7" font-size="8.5" fill="#1a1a1a" >MTBR-tau243</text>
<line x1="491.3" y1="575.7" x2="551.8" y2="575.7" stroke="#2ba6dc" stroke-width="1.3"/>
<line x1="491.3" y1="573.9" x2="491.3" y2="577.5" stroke="#2ba6dc" stroke-width="1.0"/>
<line x1="551.8" y1="573.9" x2="551.8" y2="577.5" stroke="#2ba6dc" stroke-width="1.0"/>
<circle cx="515.0" cy="575.7" r="2.6" fill="#2ba6dc"/>
<text x="617.1" y="577.3" font-size="8.5" fill="#1a1a1a" >mPACC</text>
<line x1="514.4" y1="593.3" x2="577.6" y2="593.3" stroke="#8a5a2c" stroke-width="1.3"/>
<line x1="514.4" y1="591.5" x2="514.4" y2="595.1" stroke="#8a5a2c" stroke-width="1.0"/>
<line x1="577.6" y1="591.5" x2="577.6" y2="595.1" stroke="#8a5a2c" stroke-width="1.0"/>
<circle cx="545.8" cy="593.3" r="2.6" fill="#8a5a2c"/>
<text x="617.1" y="594.9" font-size="8.5" fill="#1a1a1a" >np-tau mid-region</text>
<text x="400.1" y="615.0" font-size="8.2" fill="#444" text-anchor="middle" >0</text>
<text x="477.7" y="615.0" font-size="8.2" fill="#444" text-anchor="middle" >10</text>
<text x="555.3" y="615.0" font-size="8.2" fill="#444" text-anchor="middle" >20</text>
<text x="346.4" y="438.4" font-size="17.4" fill="#222" font-weight="bold" >C)</text>
<text x="412.8" y="633.9" font-size="10" fill="#111" font-weight="bold" textLength="188.8" lengthAdjust="spacingAndGlyphs" >Estimated Crossing Time from Aβ-PET+</text>
<line x1="134.5" y1="721.8" x2="520.8" y2="721.8" stroke="#e9e9e9" stroke-width="0.8"/>
<line x1="134.5" y1="763.2" x2="520.8" y2="763.2" stroke="#e9e9e9" stroke-width="0.8"/>
<line x1="134.5" y1="808.0" x2="520.8" y2="808.0" stroke="#e9e9e9" stroke-width="0.8"/>
<line x1="134.5" y1="848.2" x2="520.8" y2="848.2" stroke="#e9e9e9" stroke-width="0.8"/>
<line x1="134.5" y1="894.2" x2="520.8" y2="894.2" stroke="#e9e9e9" stroke-width="0.8"/>
<line x1="134.5" y1="924.3" x2="520.8" y2="924.3" stroke="#e9e9e9" stroke-width="0.8"/>
<line x1="134.5" y1="979.6" x2="520.8" y2="979.6" stroke="#e9e9e9" stroke-width="0.8"/>
<line x1="202.4" y1="708.4" x2="202.4" y2="1010.5" stroke="#e9e9e9" stroke-width="0.8"/>
<line x1="302.3" y1="708.4" x2="302.3" y2="1010.5" stroke="#e9e9e9" stroke-width="0.8"/>
<line x1="403.4" y1="708.4" x2="403.4" y2="1010.5" stroke="#e9e9e9" stroke-width="0.8"/>
<line x1="503.3" y1="708.4" x2="503.3" y2="1010.5" stroke="#e9e9e9" stroke-width="0.8"/>
<clipPath id="clipD"><rect x="134.5" y="708.4" width="350" height="302.1"/></clipPath>
<g clip-path="url(#clipD)">
<path d="M134.4,974.8L137.4,975.3L140.4,975.8L143.4,976.2L146.5,976.5L149.5,976.8L152.5,977.0L155.5,977.2L158.5,977.3L161.5,977.3L164.6,977.3L167.6,977.3L170.6,977.2L173.6,977.0L176.6,976.8L179.6,976.6L182.6,976.3L185.7,975.9L188.7,975.5L191.7,975.0L194.7,974.5L197.7,973.9L200.7,973.3L203.8,972.6L206.8,971.9L209.8,971.1L212.8,970.3L215.8,969.4L218.8,968.5L221.8,967.5L224.9,966.5L227.9,965.4L230.9,964.2L233.9,963.1L236.9,961.8L239.9,960.5L243.0,959.2L246.0,957.8L249.0,956.4L252.0,954.9L255.0,953.4L258.0,951.8L261.1,950.1L264.1,948.4L267.1,946.7L270.1,944.9L273.1,943.1L276.1,941.2L279.1,939.3L282.2,937.3L285.2,935.3L288.2,933.3L291.2,931.2L294.2,929.1L297.2,926.9L300.3,924.7L303.3,922.3L306.3,919.9L309.3,917.4L312.3,914.9L315.3,912.4L318.3,909.8L321.4,907.2L324.4,904.6L327.4,901.9L330.4,899.2L333.4,896.5L336.4,893.7L339.5,891.0L342.5,888.2L345.5,885.4L348.5,882.5L351.5,879.7L354.5,876.8L357.5,873.9L360.6,871.0L363.6,868.1L366.6,865.1L369.6,862.2L372.6,859.2L375.6,856.2L378.7,853.2L381.7,850.2L384.7,847.2L387.7,844.2L390.7,841.2L393.7,838.2L396.8,835.1L399.8,832.1L402.8,828.6L405.8,825.0L408.8,821.5L411.8,818.0L414.8,814.4L417.9,810.9L420.9,807.4L423.9,803.8L426.9,800.3L429.9,796.8L432.9,793.3L436.0,789.8L439.0,786.4L442.0,782.9L445.0,779.5L448.0,776.0L451.0,772.6L454.0,769.2L457.1,765.9L460.1,762.5L463.1,759.2L466.1,755.9L469.1,752.6L472.1,749.4L475.2,746.1L478.2,742.9L481.2,739.8L484.2,736.6 L484.2,787.6L481.2,789.5L478.2,791.5L475.2,793.5L472.1,795.5L469.1,797.5L466.1,799.6L463.1,801.7L460.1,803.8L457.1,805.9L454.0,808.1L451.0,810.2L448.0,812.4L445.0,814.6L442.0,816.9L439.0,819.1L436.0,821.3L432.9,823.6L429.9,825.9L426.9,828.2L423.9,830.5L420.9,832.8L417.9,835.1L414.8,837.4L411.8,839.7L408.8,842.1L405.8,844.4L402.8,846.7L399.8,849.1L396.8,851.9L393.7,854.7L390.7,857.5L387.7,860.3L384.7,863.1L381.7,865.9L378.7,868.7L375.6,871.5L372.6,874.3L369.6,877.0L366.6,879.8L363.6,882.5L360.6,885.2L357.5,887.9L354.5,890.6L351.5,893.3L348.5,895.9L345.5,898.6L342.5,901.2L339.5,903.7L336.4,906.3L333.4,908.8L330.4,911.3L327.4,913.8L324.4,916.3L321.4,918.7L318.3,921.1L315.3,923.4L312.3,925.8L309.3,928.1L306.3,930.3L303.3,932.5L300.3,934.7L297.2,937.0L294.2,939.3L291.2,941.6L288.2,943.8L285.2,945.9L282.2,948.0L279.1,950.1L276.1,952.2L273.1,954.2L270.1,956.1L267.1,958.0L264.1,959.9L261.1,961.7L258.0,963.4L255.0,965.2L252.0,966.8L249.0,968.5L246.0,970.0L243.0,971.6L239.9,973.1L236.9,974.5L233.9,975.9L230.9,977.2L227.9,978.5L224.9,979.8L221.8,980.9L218.8,982.1L215.8,983.2L212.8,984.2L209.8,985.2L206.8,986.1L203.8,987.0L200.7,987.8L197.7,988.6L194.7,989.3L191.7,990.0L188.7,990.6L185.7,991.2L182.6,991.7L179.6,992.2L176.6,992.6L173.6,993.0L170.6,993.3L167.6,993.6L164.6,993.8L161.5,993.9L158.5,994.0L155.5,994.0L152.5,994.0L149.5,994.0L146.5,993.8L143.4,993.7L140.4,993.4L137.4,993.2L134.4,992.8 Z" fill="#c0283a" fill-opacity="0.09" stroke="none"/>
<path d="M134.4,965.0L137.4,965.1L140.4,965.1L143.4,965.1L146.5,965.1L149.5,965.0L152.5,965.0L155.5,964.8L158.5,964.7L161.5,964.5L164.6,964.3L167.6,964.1L170.6,963.8L173.6,963.4L176.6,963.1L179.6,962.7L182.6,962.2L185.7,961.8L188.7,961.2L191.7,960.7L194.7,960.1L197.7,959.4L200.7,958.7L203.8,957.9L206.8,957.1L209.8,956.3L212.8,955.4L215.8,954.4L218.8,953.4L221.8,952.4L224.9,951.2L227.9,950.1L230.9,948.9L233.9,947.6L236.9,946.2L239.9,944.8L243.0,943.4L246.0,941.8L249.0,940.2L252.0,938.5L255.0,936.8L258.0,934.9L261.1,933.0L264.1,931.0L267.1,929.1L270.1,927.1L273.1,925.0L276.1,923.0L279.1,921.0L282.2,918.9L285.2,916.9L288.2,914.9L291.2,912.9L294.2,910.9L297.2,909.0L300.3,907.0L303.3,905.0L306.3,903.1L309.3,901.1L312.3,899.2L315.3,897.3L318.3,895.4L321.4,893.5L324.4,891.6L327.4,889.8L330.4,888.0L333.4,886.2L336.4,884.4L339.5,882.7L342.5,881.0L345.5,879.4L348.5,877.7L351.5,876.2L354.5,874.6L357.5,873.1L360.6,871.6L363.6,870.2L366.6,868.9L369.6,867.6L372.6,866.3L375.6,865.1L378.7,863.9L381.7,862.8L384.7,861.8L387.7,860.8L390.7,859.9L393.7,859.0L396.8,858.2L399.8,857.5L402.8,856.6L405.8,855.8L408.8,855.0L411.8,854.3L414.8,853.6L417.9,853.0L420.9,852.4L423.9,852.0L426.9,851.5L429.9,851.1L432.9,850.7L436.0,850.4L439.0,850.1L442.0,849.9L445.0,849.6L448.0,849.4L451.0,849.3L454.0,849.1L457.1,848.9L460.1,848.8L463.1,848.7L466.1,848.6L469.1,848.5L472.1,848.4L475.2,848.3L478.2,848.1L481.2,848.0L484.2,847.9 L484.2,881.9L481.2,881.4L478.2,880.8L475.2,880.3L472.1,879.8L469.1,879.3L466.1,878.7L463.1,878.2L460.1,877.7L457.1,877.1L454.0,876.6L451.0,876.2L448.0,875.7L445.0,875.3L442.0,874.8L439.0,874.5L436.0,874.1L432.9,873.8L429.9,873.5L426.9,873.3L423.9,873.1L420.9,872.9L417.9,872.8L414.8,872.8L411.8,872.8L408.8,872.9L405.8,873.0L402.8,873.2L399.8,873.5L396.8,874.1L393.7,874.8L390.7,875.5L387.7,876.3L384.7,877.2L381.7,878.1L378.7,879.1L375.6,880.1L372.6,881.2L369.6,882.3L366.6,883.5L363.6,884.8L360.6,886.1L357.5,887.4L354.5,888.8L351.5,890.2L348.5,891.7L345.5,893.2L342.5,894.7L339.5,896.3L336.4,897.9L333.4,899.5L330.4,901.2L327.4,902.9L324.4,904.6L321.4,906.3L318.3,908.1L315.3,909.9L312.3,911.7L309.3,913.5L306.3,915.3L303.3,917.2L300.3,919.0L297.2,921.0L294.2,922.9L291.2,924.9L288.2,926.9L285.2,928.9L282.2,930.9L279.1,933.0L276.1,935.0L273.1,937.0L270.1,939.1L267.1,941.1L264.1,943.0L261.1,945.0L258.0,946.9L255.0,948.8L252.0,950.5L249.0,952.3L246.0,954.0L243.0,955.7L239.9,957.3L236.9,958.9L233.9,960.4L230.9,961.8L227.9,963.2L224.9,964.5L221.8,965.8L218.8,967.0L215.8,968.2L212.8,969.3L209.8,970.4L206.8,971.4L203.8,972.3L200.7,973.2L197.7,974.1L194.7,974.9L191.7,975.7L188.7,976.4L185.7,977.1L182.6,977.7L179.6,978.3L176.6,978.9L173.6,979.4L170.6,979.9L167.6,980.3L164.6,980.7L161.5,981.1L158.5,981.4L155.5,981.7L152.5,982.0L149.5,982.2L146.5,982.4L143.4,982.6L140.4,982.8L137.4,982.9L134.4,983.0 Z" fill="#f39c2d" fill-opacity="0.12" stroke="none"/>
<path d="M134.4,952.8L137.4,952.8L140.4,952.9L143.4,952.9L146.5,952.8L149.5,952.7L152.5,952.6L155.5,952.4L158.5,952.1L161.5,951.8L164.6,951.5L167.6,951.1L170.6,950.7L173.6,950.2L176.6,949.7L179.6,949.2L182.6,948.6L185.7,948.0L188.7,947.3L191.7,946.5L194.7,945.8L197.7,945.0L200.7,944.1L203.8,943.2L206.8,942.3L209.8,941.3L212.8,940.3L215.8,939.3L218.8,938.2L221.8,937.1L224.9,935.9L227.9,934.7L230.9,933.4L233.9,932.2L236.9,930.8L239.9,929.5L243.0,928.1L246.0,926.7L249.0,925.2L252.0,923.8L255.0,922.4L258.0,920.9L261.1,919.4L264.1,917.9L267.1,916.4L270.1,914.9L273.1,913.4L276.1,911.9L279.1,910.5L282.2,909.0L285.2,907.6L288.2,906.3L291.2,904.9L294.2,903.6L297.2,902.4L300.3,901.1L303.3,899.9L306.3,898.7L309.3,897.6L312.3,896.5L315.3,895.4L318.3,894.4L321.4,893.4L324.4,892.5L327.4,891.6L330.4,890.8L333.4,890.0L336.4,889.3L339.5,888.6L342.5,887.9L345.5,887.3L348.5,886.7L351.5,886.2L354.5,885.7L357.5,885.2L360.6,884.8L363.6,884.5L366.6,884.1L369.6,883.8L372.6,883.6L375.6,883.4L378.7,883.2L381.7,883.1L384.7,883.0L387.7,882.9L390.7,882.9L393.7,882.9L396.8,882.9L399.8,883.0L402.8,883.0L405.8,882.9L408.8,882.9L411.8,882.9L414.8,882.9L417.9,883.0L420.9,883.2L423.9,883.3L426.9,883.5L429.9,883.7L432.9,884.0L436.0,884.2L439.0,884.6L442.0,884.9L445.0,885.3L448.0,885.7L451.0,886.1L454.0,886.6L457.1,887.1L460.1,887.7L463.1,888.2L466.1,888.8L469.1,889.4L472.1,890.1L475.2,890.8L478.2,891.5L481.2,892.2L484.2,893.0 L484.2,919.0L481.2,917.8L478.2,916.6L475.2,915.5L472.1,914.4L469.1,913.3L466.1,912.2L463.1,911.2L460.1,910.2L457.1,909.3L454.0,908.3L451.0,907.4L448.0,906.5L445.0,905.7L442.0,904.9L439.0,904.1L436.0,903.4L432.9,902.7L429.9,902.0L426.9,901.3L423.9,900.7L420.9,900.1L417.9,899.6L414.8,899.1L411.8,898.6L408.8,898.1L405.8,897.7L402.8,897.4L399.8,897.0L396.8,896.9L393.7,896.9L390.7,896.9L387.7,896.9L384.7,897.0L381.7,897.1L378.7,897.2L375.6,897.4L372.6,897.6L369.6,897.8L366.6,898.1L363.6,898.5L360.6,898.8L357.5,899.2L354.5,899.7L351.5,900.2L348.5,900.7L345.5,901.3L342.5,901.9L339.5,902.6L336.4,903.3L333.4,904.0L330.4,904.8L327.4,905.6L324.4,906.5L321.4,907.4L318.3,908.4L315.3,909.4L312.3,910.5L309.3,911.6L306.3,912.7L303.3,913.9L300.3,915.1L297.2,916.5L294.2,917.8L291.2,919.3L288.2,920.7L285.2,922.2L282.2,923.8L279.1,925.3L276.1,926.9L273.1,928.5L270.1,930.1L267.1,931.7L264.1,933.4L261.1,935.0L258.0,936.6L255.0,938.2L252.0,939.7L249.0,941.2L246.0,942.5L243.0,943.9L239.9,945.1L236.9,946.4L233.9,947.6L230.9,948.8L227.9,949.9L224.9,951.0L221.8,952.1L218.8,953.1L215.8,954.1L212.8,955.0L209.8,956.0L206.8,956.8L203.8,957.6L200.7,958.4L197.7,959.2L194.7,959.9L191.7,960.5L188.7,961.2L185.7,961.7L182.6,962.3L179.6,962.8L176.6,963.2L173.6,963.6L170.6,964.0L167.6,964.3L164.6,964.6L161.5,964.8L158.5,965.0L155.5,965.1L152.5,965.2L149.5,965.2L146.5,965.2L143.4,965.2L140.4,965.1L137.4,965.0L134.4,964.8 Z" fill="#6a6ab8" fill-opacity="0.1" stroke="none"/>
<path d="M134.4,953.5L137.4,953.5L140.4,953.4L143.4,953.3L146.5,953.3L149.5,953.1L152.5,953.0L155.5,952.8L158.5,952.7L161.5,952.5L164.6,952.3L167.6,952.0L170.6,951.8L173.6,951.5L176.6,951.2L179.6,950.9L182.6,950.6L185.7,950.3L188.7,949.9L191.7,949.6L194.7,949.2L197.7,948.8L200.7,948.4L203.8,948.0L206.8,947.5L209.8,947.1L212.8,946.6L215.8,946.1L218.8,945.6L221.8,945.1L224.9,944.6L227.9,944.1L230.9,943.5L233.9,943.0L236.9,942.4L239.9,941.9L243.0,941.3L246.0,940.7L249.0,940.1L252.0,939.5L255.0,938.8L258.0,938.2L261.1,937.5L264.1,936.8L267.1,936.2L270.1,935.5L273.1,934.8L276.1,934.1L279.1,933.4L282.2,932.7L285.2,932.0L288.2,931.2L291.2,930.5L294.2,929.8L297.2,929.1L300.3,928.3L303.3,927.5L306.3,926.7L309.3,925.9L312.3,925.1L315.3,924.3L318.3,923.5L321.4,922.7L324.4,921.8L327.4,921.0L330.4,920.2L333.4,919.4L336.4,918.6L339.5,917.8L342.5,916.9L345.5,916.1L348.5,915.3L351.5,914.5L354.5,913.7L357.5,912.9L360.6,912.1L363.6,911.3L366.6,910.5L369.6,909.7L372.6,908.9L375.6,908.1L378.7,907.3L381.7,906.5L384.7,905.8L387.7,905.0L390.7,904.2L393.7,903.5L396.8,902.7L399.8,902.0L402.8,901.0L405.8,899.9L408.8,898.9L411.8,897.8L414.8,896.8L417.9,895.7L420.9,894.7L423.9,893.7L426.9,892.7L429.9,891.7L432.9,890.8L436.0,889.8L439.0,888.8L442.0,887.9L445.0,887.0L448.0,886.1L451.0,885.2L454.0,884.3L457.1,883.4L460.1,882.5L463.1,881.7L466.1,880.8L469.1,880.0L472.1,879.2L475.2,878.4L478.2,877.6L481.2,876.9L484.2,876.1 L484.2,912.1L481.2,912.1L478.2,912.1L475.2,912.0L472.1,912.0L469.1,912.1L466.1,912.1L463.1,912.2L460.1,912.2L457.1,912.3L454.0,912.4L451.0,912.5L448.0,912.6L445.0,912.7L442.0,912.9L439.0,913.0L436.0,913.2L432.9,913.4L429.9,913.6L426.9,913.8L423.9,914.0L420.9,914.2L417.9,914.4L414.8,914.7L411.8,914.9L408.8,915.2L405.8,915.4L402.8,915.7L399.8,916.0L396.8,916.6L393.7,917.2L390.7,917.9L387.7,918.5L384.7,919.2L381.7,919.8L378.7,920.5L375.6,921.1L372.6,921.8L369.6,922.5L366.6,923.1L363.6,923.8L360.6,924.5L357.5,925.2L354.5,925.9L351.5,926.6L348.5,927.3L345.5,927.9L342.5,928.6L339.5,929.3L336.4,930.0L333.4,930.7L330.4,931.4L327.4,932.1L324.4,932.8L321.4,933.5L318.3,934.2L315.3,934.9L312.3,935.6L309.3,936.3L306.3,937.0L303.3,937.7L300.3,938.3L297.2,939.1L294.2,939.8L291.2,940.5L288.2,941.2L285.2,942.0L282.2,942.7L279.1,943.4L276.1,944.1L273.1,944.8L270.1,945.5L267.1,946.2L264.1,946.8L261.1,947.5L258.0,948.2L255.0,948.8L252.0,949.5L249.0,950.1L246.0,950.8L243.0,951.4L239.9,952.0L236.9,952.7L233.9,953.3L230.9,953.9L227.9,954.5L224.9,955.0L221.8,955.6L218.8,956.2L215.8,956.7L212.8,957.2L209.8,957.8L206.8,958.3L203.8,958.8L200.7,959.2L197.7,959.7L194.7,960.1L191.7,960.6L188.7,961.0L185.7,961.4L182.6,961.8L179.6,962.2L176.6,962.5L173.6,962.8L170.6,963.2L167.6,963.5L164.6,963.7L161.5,964.0L158.5,964.2L155.5,964.5L152.5,964.7L149.5,964.9L146.5,965.0L143.4,965.2L140.4,965.3L137.4,965.4L134.4,965.5 Z" fill="#1ba7c4" fill-opacity="0.09" stroke="none"/>
<path d="M134.4,976.9L137.4,976.9L140.4,977.0L143.4,977.0L146.5,977.0L149.5,977.0L152.5,977.0L155.5,976.9L158.5,976.9L161.5,976.8L164.6,976.7L167.6,976.5L170.6,976.4L173.6,976.2L176.6,976.0L179.6,975.8L182.6,975.5L185.7,975.2L188.7,974.9L191.7,974.6L194.7,974.2L197.7,973.9L200.7,973.4L203.8,973.0L206.8,972.5L209.8,972.0L212.8,971.5L215.8,970.9L218.8,970.3L221.8,969.6L224.9,969.0L227.9,968.3L230.9,967.5L233.9,966.7L236.9,965.9L239.9,965.1L243.0,964.2L246.0,963.2L249.0,962.3L252.0,961.3L255.0,960.2L258.0,959.1L261.1,958.0L264.1,956.8L267.1,955.6L270.1,954.4L273.1,953.1L276.1,951.9L279.1,950.6L282.2,949.2L285.2,947.9L288.2,946.5L291.2,945.1L294.2,943.7L297.2,942.3L300.3,940.8L303.3,939.3L306.3,937.8L309.3,936.3L312.3,934.8L315.3,933.3L318.3,931.8L321.4,930.3L324.4,928.8L327.4,927.3L330.4,925.8L333.4,924.3L336.4,922.8L339.5,921.4L342.5,919.9L345.5,918.5L348.5,917.1L351.5,915.7L354.5,914.3L357.5,913.0L360.6,911.7L363.6,910.4L366.6,909.1L369.6,907.9L372.6,906.7L375.6,905.6L378.7,904.4L381.7,903.4L384.7,902.3L387.7,901.3L390.7,900.4L393.7,899.5L396.8,898.6L399.8,897.8L402.8,896.9L405.8,896.1L408.8,895.3L411.8,894.6L414.8,893.9L417.9,893.2L420.9,892.6L423.9,892.0L426.9,891.5L429.9,890.9L432.9,890.4L436.0,890.0L439.0,889.5L442.0,889.1L445.0,888.7L448.0,888.3L451.0,888.0L454.0,887.6L457.1,887.3L460.1,887.0L463.1,886.7L466.1,886.4L469.1,886.2L472.1,885.9L475.2,885.7L478.2,885.5L481.2,885.3L484.2,885.1 L484.2,905.1L481.2,905.0L478.2,904.9L475.2,904.9L472.1,904.8L469.1,904.8L466.1,904.7L463.1,904.7L460.1,904.7L457.1,904.7L454.0,904.8L451.0,904.8L448.0,904.9L445.0,905.0L442.0,905.1L439.0,905.2L436.0,905.4L432.9,905.6L429.9,905.8L426.9,906.0L423.9,906.3L420.9,906.6L417.9,906.9L414.8,907.3L411.8,907.7L408.8,908.2L405.8,908.7L402.8,909.2L399.8,909.8L396.8,910.5L393.7,911.2L390.7,912.0L387.7,912.8L384.7,913.7L381.7,914.6L378.7,915.6L375.6,916.6L372.6,917.6L369.6,918.7L366.6,919.8L363.6,920.9L360.6,922.1L357.5,923.3L354.5,924.5L351.5,925.8L348.5,927.0L345.5,928.3L342.5,929.6L339.5,930.9L336.4,932.3L333.4,933.6L330.4,935.0L327.4,936.4L324.4,937.7L321.4,939.1L318.3,940.5L315.3,941.9L312.3,943.3L309.3,944.7L306.3,946.1L303.3,947.5L300.3,948.9L297.2,950.3L294.2,951.7L291.2,953.1L288.2,954.5L285.2,955.9L282.2,957.2L279.1,958.6L276.1,959.9L273.1,961.1L270.1,962.4L267.1,963.6L264.1,964.8L261.1,966.0L258.0,967.1L255.0,968.2L252.0,969.3L249.0,970.3L246.0,971.2L243.0,972.2L239.9,973.1L236.9,973.9L233.9,974.7L230.9,975.5L227.9,976.3L224.9,977.0L221.8,977.6L218.8,978.3L215.8,978.9L212.8,979.5L209.8,980.0L206.8,980.5L203.8,981.0L200.7,981.4L197.7,981.9L194.7,982.2L191.7,982.6L188.7,982.9L185.7,983.2L182.6,983.5L179.6,983.8L176.6,984.0L173.6,984.2L170.6,984.4L167.6,984.5L164.6,984.7L161.5,984.8L158.5,984.9L155.5,984.9L152.5,985.0L149.5,985.0L146.5,985.0L143.4,985.0L140.4,985.0L137.4,984.9L134.4,984.9 Z" fill="#5aad4f" fill-opacity="0.08" stroke="none"/>
<path d="M134.4,972.2L137.4,972.4L140.4,972.6L143.4,972.8L146.5,972.9L149.5,973.1L152.5,973.2L155.5,973.3L158.5,973.4L161.5,973.5L164.6,973.6L167.6,973.7L170.6,973.7L173.6,973.7L176.6,973.8L179.6,973.8L182.6,973.8L185.7,973.7L188.7,973.7L191.7,973.7L194.7,973.6L197.7,973.5L200.7,973.4L203.8,973.3L206.8,973.2L209.8,973.1L212.8,973.0L215.8,972.8L218.8,972.6L221.8,972.5L224.9,972.3L227.9,972.1L230.9,971.9L233.9,971.6L236.9,971.4L239.9,971.2L243.0,970.9L246.0,970.6L249.0,970.3L252.0,970.0L255.0,969.7L258.0,969.3L261.1,968.9L264.1,968.5L267.1,968.1L270.1,967.7L273.1,967.3L276.1,966.9L279.1,966.4L282.2,966.0L285.2,965.5L288.2,965.0L291.2,964.5L294.2,964.0L297.2,963.5L300.3,963.0L303.3,962.4L306.3,961.9L309.3,961.3L312.3,960.6L315.3,960.0L318.3,959.4L321.4,958.8L324.4,958.1L327.4,957.5L330.4,956.8L333.4,956.1L336.4,955.4L339.5,954.8L342.5,954.1L345.5,953.4L348.5,952.6L351.5,951.9L354.5,951.2L357.5,950.5L360.6,949.7L363.6,949.0L366.6,948.2L369.6,947.4L372.6,946.7L375.6,945.9L378.7,945.1L381.7,944.3L384.7,943.5L387.7,942.7L390.7,941.9L393.7,941.0L396.8,940.2L399.8,939.4L402.8,938.4L405.8,937.3L408.8,936.3L411.8,935.2L414.8,934.2L417.9,933.1L420.9,932.1L423.9,931.0L426.9,929.9L429.9,928.8L432.9,927.7L436.0,926.6L439.0,925.6L442.0,924.4L445.0,923.3L448.0,922.2L451.0,921.1L454.0,920.0L457.1,918.9L460.1,917.7L463.1,916.6L466.1,915.5L469.1,914.3L472.1,913.2L475.2,912.0L478.2,910.9L481.2,909.7L484.2,908.6 L484.2,936.6L481.2,937.2L478.2,937.9L475.2,938.5L472.1,939.2L469.1,939.8L466.1,940.5L463.1,941.1L460.1,941.7L457.1,942.4L454.0,943.0L451.0,943.6L448.0,944.2L445.0,944.8L442.0,945.4L439.0,946.0L436.0,946.6L432.9,947.2L429.9,947.8L426.9,948.4L423.9,949.0L420.9,949.5L417.9,950.1L414.8,950.7L411.8,951.2L408.8,951.8L405.8,952.3L402.8,952.8L399.8,953.4L396.8,954.1L393.7,954.8L390.7,955.5L387.7,956.2L384.7,956.9L381.7,957.6L378.7,958.2L375.6,958.9L372.6,959.6L369.6,960.2L366.6,960.9L363.6,961.5L360.6,962.1L357.5,962.8L354.5,963.4L351.5,964.0L348.5,964.6L345.5,965.2L342.5,965.8L339.5,966.3L336.4,966.9L333.4,967.5L330.4,968.0L327.4,968.6L324.4,969.1L321.4,969.6L318.3,970.1L315.3,970.6L312.3,971.1L309.3,971.6L306.3,972.1L303.3,972.6L300.3,973.0L297.2,973.5L294.2,974.0L291.2,974.5L288.2,975.0L285.2,975.5L282.2,976.0L279.1,976.4L276.1,976.9L273.1,977.3L270.1,977.7L267.1,978.1L264.1,978.5L261.1,978.9L258.0,979.3L255.0,979.7L252.0,980.0L249.0,980.4L246.0,980.8L243.0,981.1L239.9,981.5L236.9,981.9L233.9,982.2L230.9,982.5L227.9,982.8L224.9,983.1L221.8,983.4L218.8,983.7L215.8,984.0L212.8,984.2L209.8,984.5L206.8,984.7L203.8,984.9L200.7,985.1L197.7,985.3L194.7,985.5L191.7,985.7L188.7,985.8L185.7,986.0L182.6,986.1L179.6,986.2L176.6,986.3L173.6,986.4L170.6,986.5L167.6,986.5L164.6,986.6L161.5,986.6L158.5,986.6L155.5,986.6L152.5,986.6L149.5,986.6L146.5,986.5L143.4,986.5L140.4,986.4L137.4,986.3L134.4,986.2 Z" fill="#a88e72" fill-opacity="0.14" stroke="none"/>
<path d="M134.4,977.6L137.4,977.0L140.5,976.5L143.5,976.0L146.5,975.6L149.6,975.2L152.6,974.8L155.6,974.5L158.7,974.2L161.7,973.9L164.7,973.7L167.7,973.4L170.8,973.2L173.8,973.1L176.8,972.9L179.9,972.7L182.9,972.6L185.9,972.4L189.0,972.3L192.0,972.1L195.0,971.9L198.1,971.8L201.1,971.6L204.1,971.4L207.2,971.2L210.2,971.0L213.2,970.7L216.2,970.4L219.3,970.1L222.3,969.8L225.3,969.4L228.4,969.0L231.4,968.6L234.4,968.1L237.5,967.5L240.5,966.9L243.5,966.3L246.6,965.6L249.6,964.8L252.6,964.0L255.7,963.1L258.7,962.2L261.7,961.2L264.8,960.1L267.8,958.9L270.8,957.6L273.8,956.3L276.9,954.7L279.9,953.1L282.9,951.2L286.0,949.2L289.0,946.9L292.0,944.4L295.1,941.6L298.1,938.5L301.1,935.2L304.2,931.5L307.2,927.6L310.2,923.5L313.3,919.2L316.3,914.7L319.3,910.1L322.4,905.3L325.4,900.4L328.4,895.2L331.4,889.8L334.5,884.2L337.5,878.2L340.5,871.9L343.6,865.4L346.6,858.6L349.6,851.6L352.7,844.5L355.7,837.3L358.7,830.0L361.8,822.7L364.8,815.4L367.8,808.2L370.9,801.0L373.9,793.8L376.9,786.3L379.9,778.4L383.0,770.1L386.0,761.2L389.0,751.4L392.1,740.8L395.1,729.1L398.1,716.3L401.2,702.1L404.2,686.4 L404.2,692.4L401.2,708.1L398.1,722.3L395.1,735.1L392.1,746.8L389.0,757.4L386.0,767.2L383.0,776.1L379.9,784.4L376.9,792.3L373.9,799.8L370.9,807.0L367.8,814.2L364.8,821.4L361.8,828.7L358.7,836.0L355.7,843.3L352.7,850.5L349.6,857.6L346.6,864.6L343.6,871.4L340.5,877.9L337.5,884.2L334.5,890.2L331.4,895.8L328.4,901.2L325.4,906.4L322.4,911.3L319.3,916.1L316.3,920.7L313.3,925.2L310.2,929.5L307.2,933.6L304.2,937.5L301.1,941.2L298.1,944.5L295.1,947.6L292.0,950.4L289.0,952.9L286.0,955.2L282.9,957.2L279.9,959.1L276.9,960.7L273.8,962.3L270.8,963.6L267.8,964.9L264.8,966.1L261.7,967.2L258.7,968.2L255.7,969.1L252.6,970.0L249.6,970.8L246.6,971.6L243.5,972.3L240.5,972.9L237.5,973.5L234.4,974.1L231.4,974.6L228.4,975.0L225.3,975.4L222.3,975.8L219.3,976.1L216.2,976.4L213.2,976.7L210.2,977.0L207.2,977.2L204.1,977.4L201.1,977.6L198.1,977.8L195.0,977.9L192.0,978.1L189.0,978.3L185.9,978.4L182.9,978.6L179.9,978.7L176.8,978.9L173.8,979.1L170.8,979.2L167.7,979.4L164.7,979.7L161.7,979.9L158.7,980.2L155.6,980.5L152.6,980.8L149.6,981.2L146.5,981.6L143.5,982.0L140.5,982.5L137.4,983.0L134.4,983.6 Z" fill="#8059a4" fill-opacity="0.1" stroke="none"/>
</g>
<line x1="134.5" y1="947.4" x2="520.8" y2="944.4" stroke="#e8434d" stroke-width="1.1" stroke-dasharray="3.2,2.6"/>
<line x1="302.4" y1="713.0" x2="302.4" y2="1010.5" stroke="#111" stroke-width="1.15" stroke-dasharray="2.6,2.1"/>
<clipPath id="clipD2"><rect x="134.5" y="708.4" width="350" height="302.1"/></clipPath>
<g clip-path="url(#clipD2)">
<path d="M134.4,978.9L137.4,979.1L140.4,979.3L143.4,979.4L146.5,979.6L149.5,979.7L152.5,979.8L155.5,979.9L158.5,980.0L161.5,980.1L164.6,980.1L167.6,980.2L170.6,980.2L173.6,980.2L176.6,980.2L179.6,980.2L182.6,980.1L185.7,980.1L188.7,980.0L191.7,980.0L194.7,979.9L197.7,979.8L200.7,979.7L203.8,979.5L206.8,979.4L209.8,979.2L212.8,979.0L215.8,978.8L218.8,978.6L221.8,978.4L224.9,978.2L227.9,977.9L230.9,977.6L233.9,977.3L236.9,977.0L239.9,976.7L243.0,976.4L246.0,976.0L249.0,975.6L252.0,975.2L255.0,974.9L258.0,974.4L261.1,974.0L264.1,973.6L267.1,973.1L270.1,972.7L273.1,972.2L276.1,971.7L279.1,971.2L282.2,970.7L285.2,970.2L288.2,969.7L291.2,969.1L294.2,968.6L297.2,968.1L300.3,967.5L303.3,967.0L306.3,966.4L309.3,965.8L312.3,965.3L315.3,964.7L318.3,964.1L321.4,963.5L324.4,963.0L327.4,962.4L330.4,961.8L333.4,961.2L336.4,960.6L339.5,960.0L342.5,959.5L345.5,958.9L348.5,958.3L351.5,957.7L354.5,957.1L357.5,956.4L360.6,955.8L363.6,955.2L366.6,954.6L369.6,953.9L372.6,953.3L375.6,952.6L378.7,951.9L381.7,951.3L384.7,950.6L387.7,949.9L390.7,949.2L393.7,948.4L396.8,947.7L399.8,946.9L402.8,946.2L405.8,945.4L408.8,944.6L411.8,943.8L414.8,942.9L417.9,942.1L420.9,941.2L423.9,940.4L426.9,939.5L429.9,938.6L432.9,937.7L436.0,936.8L439.0,935.9L442.0,935.0L445.0,934.1L448.0,933.2L451.0,932.3L454.0,931.4L457.1,930.4L460.1,929.5L463.1,928.6L466.1,927.7L469.1,926.8L472.1,925.9L475.2,925.0L478.2,924.1L481.2,923.2L484.2,922.3" fill="none" stroke="#a88e72" stroke-width="1.6" stroke-linejoin="round"/>
<path d="M134.4,981.4L137.4,981.3L140.4,981.1L143.4,981.0L146.5,980.8L149.5,980.7L152.5,980.5L155.5,980.4L158.5,980.2L161.5,980.0L164.6,979.8L167.6,979.7L170.6,979.5L173.6,979.2L176.6,979.0L179.6,978.8L182.6,978.5L185.7,978.3L188.7,978.0L191.7,977.7L194.7,977.4L197.7,977.0L200.7,976.6L203.8,976.3L206.8,975.8L209.8,975.4L212.8,974.9L215.8,974.4L218.8,973.9L221.8,973.3L224.9,972.7L227.9,972.1L230.9,971.5L233.9,970.8L236.9,970.0L239.9,969.3L243.0,968.4L246.0,967.6L249.0,966.7L252.0,965.8L255.0,964.8L258.0,963.7L261.1,962.7L264.1,961.6L267.1,960.4L270.1,959.2L273.1,958.0L276.1,956.7L279.1,955.4L282.2,954.1L285.2,952.7L288.2,951.3L291.2,949.8L294.2,948.4L297.2,946.9L300.3,945.3L303.3,943.8L306.3,942.2L309.3,940.6L312.3,939.0L315.3,937.3L318.3,935.7L321.4,934.1L324.4,932.4L327.4,930.8L330.4,929.2L333.4,927.7L336.4,926.1L339.5,924.6L342.5,923.1L345.5,921.7L348.5,920.3L351.5,919.0L354.5,917.7L357.5,916.5L360.6,915.4L363.6,914.3L366.6,913.2L369.6,912.2L372.6,911.2L375.6,910.3L378.7,909.5L381.7,908.6L384.7,907.8L387.7,907.1L390.7,906.4L393.7,905.7L396.8,905.0L399.8,904.4L402.8,903.8L405.8,903.2L408.8,902.6L411.8,902.1L414.8,901.6L417.9,901.1L420.9,900.7L423.9,900.2L426.9,899.8L429.9,899.4L432.9,899.0L436.0,898.7L439.0,898.3L442.0,898.0L445.0,897.7L448.0,897.4L451.0,897.1L454.0,896.8L457.1,896.5L460.1,896.2L463.1,896.0L466.1,895.7L469.1,895.5L472.1,895.2L475.2,895.0L478.2,894.8L481.2,894.5L484.2,894.3" fill="none" stroke="#5aad4f" stroke-width="1.3" stroke-linejoin="round"/>
<path d="M134.4,959.9L137.4,959.8L140.4,959.6L143.4,959.4L146.5,959.2L149.5,959.0L152.5,958.7L155.5,958.5L158.5,958.3L161.5,958.0L164.6,957.7L167.6,957.4L170.6,957.1L173.6,956.8L176.6,956.4L179.6,956.1L182.6,955.7L185.7,955.4L188.7,955.0L191.7,954.6L194.7,954.2L197.7,953.8L200.7,953.4L203.8,952.9L206.8,952.5L209.8,952.0L212.8,951.5L215.8,951.1L218.8,950.6L221.8,950.1L224.9,949.6L227.9,949.0L230.9,948.5L233.9,947.9L236.9,947.4L239.9,946.8L243.0,946.3L246.0,945.7L249.0,945.1L252.0,944.5L255.0,943.9L258.0,943.2L261.1,942.6L264.1,942.0L267.1,941.3L270.1,940.7L273.1,940.0L276.1,939.3L279.1,938.6L282.2,938.0L285.2,937.3L288.2,936.5L291.2,935.8L294.2,935.1L297.2,934.4L300.3,933.6L303.3,932.9L306.3,932.1L309.3,931.4L312.3,930.6L315.3,929.9L318.3,929.1L321.4,928.3L324.4,927.5L327.4,926.7L330.4,925.9L333.4,925.2L336.4,924.4L339.5,923.6L342.5,922.8L345.5,922.0L348.5,921.2L351.5,920.4L354.5,919.7L357.5,918.9L360.6,918.1L363.6,917.3L366.6,916.6L369.6,915.8L372.6,915.1L375.6,914.3L378.7,913.6L381.7,912.8L384.7,912.1L387.7,911.4L390.7,910.7L393.7,910.0L396.8,909.3L399.8,908.7L402.8,908.0L405.8,907.4L408.8,906.7L411.8,906.1L414.8,905.5L417.9,904.9L420.9,904.3L423.9,903.7L426.9,903.2L429.9,902.6L432.9,902.0L436.0,901.5L439.0,901.0L442.0,900.4L445.0,899.9L448.0,899.4L451.0,899.0L454.0,898.5L457.1,898.0L460.1,897.5L463.1,897.1L466.1,896.7L469.1,896.2L472.1,895.8L475.2,895.4L478.2,895.0L481.2,894.6L484.2,894.2" fill="none" stroke="#1ba7c4" stroke-width="1.4" stroke-linejoin="round"/>
<path d="M134.4,959.2L137.4,959.0L140.4,958.8L143.4,958.6L146.5,958.4L149.5,958.2L152.5,957.9L155.5,957.7L158.5,957.4L161.5,957.2L164.6,956.9L167.6,956.6L170.6,956.2L173.6,955.9L176.6,955.5L179.6,955.0L182.6,954.6L185.7,954.1L188.7,953.6L191.7,953.1L194.7,952.5L197.7,951.9L200.7,951.2L203.8,950.5L206.8,949.8L209.8,949.0L212.8,948.2L215.8,947.3L218.8,946.3L221.8,945.4L224.9,944.3L227.9,943.2L230.9,942.1L233.9,940.9L236.9,939.6L239.9,938.3L243.0,936.9L246.0,935.4L249.0,933.9L252.0,932.3L255.0,930.6L258.0,928.9L261.1,927.2L264.1,925.4L267.1,923.6L270.1,921.8L273.1,920.1L276.1,918.4L279.1,916.8L282.2,915.3L285.2,913.8L288.2,912.5L291.2,911.2L294.2,909.9L297.2,908.8L300.3,907.6L303.3,906.5L306.3,905.5L309.3,904.5L312.3,903.5L315.3,902.5L318.3,901.6L321.4,900.7L324.4,899.9L327.4,899.1L330.4,898.3L333.4,897.5L336.4,896.8L339.5,896.1L342.5,895.5L345.5,894.9L348.5,894.3L351.5,893.8L354.5,893.3L357.5,892.8L360.6,892.4L363.6,892.0L366.6,891.6L369.6,891.3L372.6,891.0L375.6,890.8L378.7,890.5L381.7,890.4L384.7,890.2L387.7,890.1L390.7,890.0L393.7,890.0L396.8,890.0L399.8,890.1L402.8,890.1L405.8,890.2L408.8,890.4L411.8,890.6L414.8,890.8L417.9,891.1L420.9,891.4L423.9,891.7L426.9,892.1L429.9,892.5L432.9,892.9L436.0,893.4L439.0,893.9L442.0,894.5L445.0,895.1L448.0,895.7L451.0,896.4L454.0,897.1L457.1,897.8L460.1,898.6L463.1,899.5L466.1,900.3L469.1,901.2L472.1,902.2L475.2,903.1L478.2,904.2L481.2,905.2L484.2,906.3" fill="none" stroke="#3a5fae" stroke-width="1.6" stroke-linejoin="round" stroke-dasharray="5,3.5"/>
<path d="M134.4,974.2L137.4,974.0L140.4,973.8L143.4,973.5L146.5,973.3L149.5,973.1L152.5,972.8L155.5,972.6L158.5,972.3L161.5,972.0L164.6,971.7L167.6,971.4L170.6,971.1L173.6,970.8L176.6,970.4L179.6,970.0L182.6,969.5L185.7,969.1L188.7,968.5L191.7,968.0L194.7,967.4L197.7,966.8L200.7,966.1L203.8,965.4L206.8,964.6L209.8,963.7L212.8,962.8L215.8,961.9L218.8,960.8L221.8,959.8L224.9,958.6L227.9,957.4L230.9,956.1L233.9,954.7L236.9,953.2L239.9,951.7L243.0,950.1L246.0,948.3L249.0,946.5L252.0,944.6L255.0,942.7L258.0,940.6L261.1,938.5L264.1,936.3L267.1,934.1L270.1,932.0L273.1,929.8L276.1,927.7L279.1,925.7L282.2,923.8L285.2,922.0L288.2,920.2L291.2,918.5L294.2,916.8L297.2,915.2L300.3,913.5L303.3,911.8L306.3,910.1L309.3,908.4L312.3,906.7L315.3,904.9L318.3,903.0L321.4,901.1L324.4,899.2L327.4,897.2L330.4,895.2L333.4,893.3L336.4,891.3L339.5,889.4L342.5,887.5L345.5,885.6L348.5,883.8L351.5,882.1L354.5,880.4L357.5,878.9L360.6,877.4L363.6,876.0L366.6,874.8L369.6,873.6L372.6,872.6L375.6,871.6L378.7,870.7L381.7,869.9L384.7,869.1L387.7,868.4L390.7,867.8L393.7,867.2L396.8,866.7L399.8,866.2L402.8,865.7L405.8,865.3L408.8,864.8L411.8,864.5L414.8,864.1L417.9,863.8L420.9,863.5L423.9,863.2L426.9,863.0L429.9,862.8L432.9,862.6L436.0,862.5L439.0,862.3L442.0,862.3L445.0,862.2L448.0,862.2L451.0,862.3L454.0,862.3L457.1,862.5L460.1,862.6L463.1,862.8L466.1,863.0L469.1,863.3L472.1,863.6L475.2,863.9L478.2,864.3L481.2,864.7L484.2,865.2" fill="none" stroke="#f39c2d" stroke-width="1.4" stroke-linejoin="round"/>
<path d="M134.4,985.2L137.4,985.1L140.4,985.0L143.4,984.9L146.5,984.8L149.5,984.7L152.5,984.6L155.5,984.4L158.5,984.3L161.5,984.1L164.6,983.9L167.6,983.6L170.6,983.4L173.6,983.1L176.6,982.8L179.6,982.5L182.6,982.1L185.7,981.7L188.7,981.2L191.7,980.8L194.7,980.3L197.7,979.7L200.7,979.1L203.8,978.5L206.8,977.8L209.8,977.1L212.8,976.3L215.8,975.5L218.8,974.7L221.8,973.8L224.9,972.8L227.9,971.8L230.9,970.7L233.9,969.6L236.9,968.4L239.9,967.2L243.0,965.9L246.0,964.5L249.0,963.1L252.0,961.6L255.0,960.1L258.0,958.4L261.1,956.8L264.1,955.0L267.1,953.2L270.1,951.4L273.1,949.5L276.1,947.5L279.1,945.5L282.2,943.4L285.2,941.3L288.2,939.2L291.2,937.0L294.2,934.8L297.2,932.5L300.3,930.1L303.3,927.8L306.3,925.3L309.3,922.9L312.3,920.4L315.3,917.8L318.3,915.3L321.4,912.7L324.4,910.0L327.4,907.4L330.4,904.7L333.4,901.9L336.4,899.2L339.5,896.5L342.5,893.7L345.5,890.9L348.5,888.1L351.5,885.3L354.5,882.5L357.5,879.6L360.6,876.8L363.6,874.0L366.6,871.2L369.6,868.3L372.6,865.5L375.6,862.7L378.7,859.9L381.7,857.0L384.7,854.2L387.7,851.4L390.7,848.6L393.7,845.7L396.8,842.9L399.8,840.1L402.8,837.3L405.8,834.5L408.8,831.7L411.8,828.8L414.8,826.0L417.9,823.2L420.9,820.4L423.9,817.6L426.9,814.8L429.9,812.0L432.9,809.1L436.0,806.3L439.0,803.5L442.0,800.7L445.0,797.9L448.0,795.1L451.0,792.3L454.0,789.5L457.1,786.7L460.1,783.9L463.1,781.1L466.1,778.3L469.1,775.6L472.1,772.8L475.2,770.0L478.2,767.2L481.2,764.4L484.2,761.6" fill="none" stroke="#c0283a" stroke-width="1.4" stroke-linejoin="round"/>
</g>
<clipPath id="clipD3"><rect x="134.5" y="694" width="350" height="316.5"/></clipPath>
<g clip-path="url(#clipD3)">
<path d="M134.4,980.2L137.4,980.0L140.4,979.8L143.4,979.6L146.4,979.4L149.4,979.2L152.5,978.9L155.5,978.7L158.5,978.4L161.5,978.2L164.5,977.9L167.5,977.6L170.5,977.4L173.5,977.1L176.5,976.8L179.5,976.5L182.5,976.2L185.6,975.9L188.6,975.6L191.6,975.3L194.6,974.9L197.6,974.6L200.6,974.3L203.6,973.9L206.6,973.6L209.6,973.2L212.6,972.9L215.6,972.5L218.7,972.1L221.7,971.7L224.7,971.4L227.7,971.0L230.7,970.6L233.7,970.2L236.7,969.8L239.7,969.4L242.7,969.0L245.7,968.6L248.8,968.1L251.8,967.6L254.8,967.0L257.8,966.3L260.8,965.5L263.8,964.6L266.8,963.6L269.8,962.4L272.8,961.0L275.8,959.5L278.8,957.7L281.9,955.8L284.9,953.6L287.9,951.1L290.9,948.4L293.9,945.5L296.9,942.4L299.9,939.0L302.9,935.4L305.9,931.6L308.9,927.5L311.9,923.1L315.0,918.7L318.0,914.1L321.0,909.6L324.0,905.1L327.0,900.8L321.4,909.5L323.2,906.4L325.1,903.4L326.8,900.4L328.6,897.4L330.3,894.4L332.0,891.3L333.6,888.3L335.2,885.3L336.8,882.3L338.3,879.3L339.8,876.2L341.3,873.2L342.8,870.2L344.2,867.2L345.6,864.2L347.0,861.1L348.4,858.1L349.8,855.1L351.1,852.1L352.4,849.1L353.7,846.0L355.0,843.0L356.3,840.0L357.6,837.0L358.9,834.0L360.2,830.9L361.4,827.9L362.7,824.9L363.9,821.9L365.1,818.9L366.4,815.8L367.6,812.8L368.8,809.8L370.0,806.8L371.2,803.8L372.3,800.7L373.5,797.7L374.7,794.7L375.8,791.7L376.9,788.7L378.0,785.6L379.1,782.6L380.2,779.6L381.3,776.6L382.3,773.6L383.4,770.5L384.4,767.5L385.4,764.5L386.4,761.5L387.4,758.5L388.3,755.4L389.3,752.4L390.2,749.4L391.1,746.4L392.0,743.4L392.8,740.3L393.7,737.3L394.5,734.3L395.3,731.3L396.1,728.3L396.9,725.2L397.6,722.2L398.3,719.2L399.0,716.2L399.7,713.2L400.4,710.1L401.0,707.1L401.6,704.1L402.2,701.1L402.7,698.1L403.3,695.0L403.8,692.0L404.3,689.0" fill="none" stroke="#8059a4" stroke-width="1.6" stroke-linejoin="round"/>
</g>
<line x1="134.5" y1="708.4" x2="134.5" y2="1011.0" stroke="#474747" stroke-width="1.1"/>
<line x1="134.0" y1="1010.5" x2="520.8" y2="1010.5" stroke="#474747" stroke-width="1.1"/>
<line x1="132.0" y1="721.8" x2="134.5" y2="721.8" stroke="#555" stroke-width="0.8"/>
<line x1="132.0" y1="763.2" x2="134.5" y2="763.2" stroke="#555" stroke-width="0.8"/>
<line x1="132.0" y1="808.0" x2="134.5" y2="808.0" stroke="#555" stroke-width="0.8"/>
<line x1="132.0" y1="848.2" x2="134.5" y2="848.2" stroke="#555" stroke-width="0.8"/>
<line x1="132.0" y1="894.2" x2="134.5" y2="894.2" stroke="#555" stroke-width="0.8"/>
<line x1="132.0" y1="924.3" x2="134.5" y2="924.3" stroke="#555" stroke-width="0.8"/>
<line x1="132.0" y1="979.6" x2="134.5" y2="979.6" stroke="#555" stroke-width="0.8"/>
<text x="131.2" y="725.4" font-size="15.0" fill="#1a1a1a" text-anchor="end" >15.0</text>
<text x="131.2" y="767.0" font-size="15.0" fill="#1a1a1a" text-anchor="end" >12.5</text>
<text x="131.2" y="811.9" font-size="15.0" fill="#1a1a1a" text-anchor="end" >10.0</text>
<text x="131.2" y="852.2" font-size="15.0" fill="#1a1a1a" text-anchor="end" >7.5</text>
<text x="131.2" y="897.3" font-size="15.0" fill="#1a1a1a" text-anchor="end" >5.0</text>
<text x="131.2" y="939.7" font-size="15.0" fill="#1a1a1a" text-anchor="end" >2.5</text>
<text x="131.2" y="983.5" font-size="15.0" fill="#1a1a1a" text-anchor="end" >0</text>
<line x1="202.4" y1="1010.5" x2="202.4" y2="1013.0" stroke="#555" stroke-width="0.8"/>
<line x1="302.3" y1="1010.5" x2="302.3" y2="1013.0" stroke="#555" stroke-width="0.8"/>
<line x1="403.4" y1="1010.5" x2="403.4" y2="1013.0" stroke="#555" stroke-width="0.8"/>
<line x1="503.3" y1="1010.5" x2="503.3" y2="1013.0" stroke="#555" stroke-width="0.8"/>
<text x="205.5" y="1024.6" font-size="14.7" fill="#1a1a1a" text-anchor="middle" >−10</text>
<text x="301.1" y="1024.6" font-size="14.7" fill="#1a1a1a" text-anchor="middle" >0</text>
<text x="403.3" y="1024.6" font-size="14.7" fill="#1a1a1a" text-anchor="middle" >10</text>
<text x="503.0" y="1024.6" font-size="14.7" fill="#1a1a1a" text-anchor="middle" >20</text>
<text x="220.3" y="689.9" font-size="17" fill="#222" font-weight="bold" textLength="180.3" lengthAdjust="spacingAndGlyphs" >Biomarkers of interest</text>
<text x="1.0" y="709.6" font-size="17.4" fill="#222" font-weight="bold" >D)</text>
<text x="72.8" y="848.0" font-size="17" fill="#111" font-weight="bold" text-anchor="middle" textLength="184" lengthAdjust="spacingAndGlyphs" transform="rotate(-90 72.8 848.0)" >Biomarker abnormality</text>
<text x="92.8" y="848.0" font-size="17" fill="#111" font-weight="bold" text-anchor="middle" transform="rotate(-90 92.8 848.0)" >(Z-score)</text>
<text x="220.9" y="1043.6" font-size="17" fill="#111" font-weight="bold" textLength="213.2" lengthAdjust="spacingAndGlyphs" >Estimated Tau-PET+ years</text>
<line x1="527.5" y1="703.8" x2="539.6" y2="703.8" stroke="#8059a4" stroke-width="1.4"/>
<text x="551.8" y="709.3" font-size="17" fill="#1a1a1a" >Tau−PET</text>
<line x1="527.5" y1="742.1" x2="539.6" y2="742.1" stroke="#c0283a" stroke-width="1.4"/>
<text x="551.8" y="746.7" font-size="17" fill="#1a1a1a" >MTBR-tau243</text>
<line x1="527.5" y1="834.0" x2="539.6" y2="834.0" stroke="#f39c2d" stroke-width="1.4"/>
<text x="551.8" y="839.2" font-size="17" fill="#1a1a1a" textLength="77.5" lengthAdjust="spacingAndGlyphs" >%p-tau217</text>
<line x1="527.5" y1="859.2" x2="539.6" y2="859.2" stroke="#5aad4f" stroke-width="1.4"/>
<text x="551.8" y="863.5" font-size="17" fill="#1a1a1a" textLength="77.5" lengthAdjust="spacingAndGlyphs" >%p-tau205</text>
<line x1="527.5" y1="881.1" x2="539.6" y2="881.1" stroke="#2ba6dc" stroke-width="1.4"/>
<text x="552.2" y="886.4" font-size="17" fill="#1a1a1a" textLength="52.0" lengthAdjust="spacingAndGlyphs" >mPACC</text>
<line x1="527.5" y1="902.2" x2="539.6" y2="902.2" stroke="#3a5fae" stroke-width="1.4" stroke-dasharray="4,3.6"/>
<text x="551.8" y="907.5" font-size="17" fill="#1a1a1a" >Aβ42/40 ratio</text>
<line x1="527.5" y1="924.5" x2="539.6" y2="924.5" stroke="#8a5a2c" stroke-width="1.4"/>
<text x="551.8" y="929.6" font-size="17" fill="#1a1a1a" >np-tau mid-region</text>
<line x1="47.5" y1="1087.2" x2="279.0" y2="1087.2" stroke="#e9e9e9" stroke-width="0.7"/>
<line x1="47.5" y1="1132.6" x2="279.0" y2="1132.6" stroke="#e9e9e9" stroke-width="0.7"/>
<line x1="47.5" y1="1222.3" x2="279.0" y2="1222.3" stroke="#e9e9e9" stroke-width="0.7"/>
<line x1="88.4" y1="1071.8" x2="88.4" y2="1253.5" stroke="#e9e9e9" stroke-width="0.7"/>
<line x1="148.4" y1="1071.8" x2="148.4" y2="1253.5" stroke="#e9e9e9" stroke-width="0.7"/>
<line x1="208.6" y1="1071.8" x2="208.6" y2="1253.5" stroke="#e9e9e9" stroke-width="0.7"/>
<line x1="269.0" y1="1071.8" x2="269.0" y2="1253.5" stroke="#e9e9e9" stroke-width="0.7"/>
<clipPath id="clipE"><rect x="47.5" y="1071.8" width="209.3" height="181.70000000000005"/></clipPath>
<g clip-path="url(#clipE)">
<path d="M47.8,1218.9L50.8,1218.7L53.8,1218.5L56.8,1218.3L59.9,1218.0L62.9,1217.8L65.9,1217.5L69.0,1217.2L72.0,1216.9L75.0,1216.6L78.1,1216.3L81.1,1216.0L84.1,1215.7L87.2,1215.4L90.2,1215.0L93.2,1214.7L96.3,1214.4L99.3,1214.0L102.3,1213.7L105.4,1213.3L108.4,1213.0L111.4,1212.6L114.5,1212.3L117.5,1211.9L120.5,1211.6L123.6,1211.3L126.6,1211.0L129.6,1210.6L132.7,1210.3L135.7,1210.0L138.7,1209.7L141.8,1209.5L144.8,1209.2L147.8,1208.9L150.9,1208.6L153.9,1208.3L156.9,1208.0L160.0,1207.7L163.0,1207.5L166.0,1207.2L169.1,1207.0L172.1,1206.8L175.1,1206.6L178.2,1206.4L181.2,1206.3L184.2,1206.2L187.2,1206.1L190.3,1206.0L193.3,1206.0L196.3,1206.0L199.4,1206.0L202.4,1205.8L205.4,1205.6L208.5,1205.4L211.5,1205.2L214.5,1205.1L217.6,1205.0L220.6,1205.0L223.6,1204.9L226.7,1205.0L229.7,1205.0L232.7,1205.1L235.8,1205.2L238.8,1205.4L241.8,1205.6L244.9,1205.9L247.9,1206.2L250.9,1206.6L254.0,1207.0L257.0,1207.4 L257.0,1239.4L254.0,1238.1L250.9,1236.9L247.9,1235.7L244.9,1234.5L241.8,1233.4L238.8,1232.3L235.8,1231.3L232.7,1230.3L229.7,1229.3L226.7,1228.4L223.6,1227.6L220.6,1226.7L217.6,1225.9L214.5,1225.2L211.5,1224.5L208.5,1223.8L205.4,1223.1L202.4,1222.5L199.4,1222.0L196.3,1221.7L193.3,1221.5L190.3,1221.3L187.2,1221.1L184.2,1221.0L181.2,1220.9L178.2,1220.8L175.1,1220.7L172.1,1220.6L169.1,1220.6L166.0,1220.6L163.0,1220.6L160.0,1220.6L156.9,1220.7L153.9,1220.8L150.9,1220.8L147.8,1220.9L144.8,1221.1L141.8,1221.3L138.7,1221.6L135.7,1221.8L132.7,1222.0L129.6,1222.3L126.6,1222.5L123.6,1222.8L120.5,1223.1L117.5,1223.3L114.5,1223.6L111.4,1223.9L108.4,1224.2L105.4,1224.5L102.3,1224.8L99.3,1225.1L96.3,1225.3L93.2,1225.6L90.2,1225.9L87.2,1226.2L84.1,1226.4L81.1,1226.7L78.1,1227.0L75.0,1227.2L72.0,1227.4L69.0,1227.7L65.9,1227.9L62.9,1228.1L59.9,1228.3L56.8,1228.5L53.8,1228.6L50.8,1228.8L47.8,1228.9 Z" fill="#8a9a9a" fill-opacity="0.07" stroke="none"/>
<path d="M47.8,1220.6L50.8,1220.3L53.8,1220.0L56.9,1219.9L59.9,1219.8L62.9,1219.7L66.0,1219.7L69.0,1219.8L72.0,1219.9L75.1,1220.1L78.1,1220.4L81.1,1220.6L84.2,1221.0L87.2,1221.3L90.2,1221.7L93.3,1222.2L96.3,1222.6L99.3,1223.1L102.4,1223.7L105.4,1224.2L108.4,1224.8L111.5,1225.3L114.5,1225.9L117.5,1226.5L120.6,1227.2L123.6,1227.8L126.6,1228.4L129.7,1229.0L132.7,1229.6L135.8,1230.3L138.8,1230.9L141.8,1231.5L144.9,1232.1L147.9,1232.7L150.9,1233.2L154.0,1233.8L157.0,1234.4L160.0,1234.9L163.1,1235.4L166.1,1236.0L169.1,1236.5L172.2,1237.1L175.2,1237.6L178.2,1238.1L181.3,1238.6L184.3,1239.1L187.3,1239.6L190.4,1240.1L193.4,1240.6L196.4,1241.1L199.5,1241.6L202.5,1242.0L205.5,1242.4L208.6,1242.8L211.6,1243.2L214.7,1243.6L217.7,1244.0L220.7,1244.4L223.8,1244.8L226.8,1245.2L229.8,1245.6L232.9,1245.9L235.9,1246.3L238.9,1246.6L242.0,1247.0L245.0,1247.3 L245.0,1262.4L242.0,1261.9L238.9,1261.3L235.9,1260.8L232.9,1260.2L229.8,1259.6L226.8,1259.1L223.8,1258.5L220.7,1257.9L217.7,1257.3L214.7,1256.7L211.6,1256.1L208.6,1255.4L205.5,1254.8L202.5,1254.2L199.5,1253.6L196.4,1253.0L193.4,1252.4L190.4,1251.7L187.3,1251.1L184.3,1250.5L181.3,1249.9L178.2,1249.3L175.2,1248.6L172.2,1248.0L169.1,1247.3L166.1,1246.7L163.1,1246.0L160.0,1245.4L157.0,1244.7L154.0,1244.0L150.9,1243.4L147.9,1242.7L144.9,1242.0L141.8,1241.4L138.8,1240.7L135.8,1240.0L132.7,1239.3L129.7,1238.7L126.6,1238.0L123.6,1237.3L120.6,1236.6L117.5,1235.9L114.5,1235.3L111.5,1234.6L108.4,1234.0L105.4,1233.4L102.4,1232.7L99.3,1232.2L96.3,1231.6L93.3,1231.1L90.2,1230.6L87.2,1230.1L84.2,1229.7L81.1,1229.3L78.1,1229.0L75.1,1228.7L72.0,1228.4L69.0,1228.2L66.0,1228.1L62.9,1228.0L59.9,1228.0L56.9,1228.1L53.8,1228.2L50.8,1228.3L47.8,1228.6 Z" fill="#8a9a9a" fill-opacity="0.07" stroke="none"/>
<path d="M47.8,1214.1L50.8,1214.2L53.8,1214.2L56.8,1214.1L59.9,1213.8L62.9,1213.5L65.9,1213.0L69.0,1212.5L72.0,1211.8L75.0,1210.9L78.1,1210.0L81.1,1208.9L84.1,1207.6L87.2,1206.2L90.2,1204.7L93.2,1203.0L96.3,1201.1L99.3,1199.1L102.3,1196.9L105.4,1194.5L108.4,1192.0L111.4,1189.3L114.5,1186.4L117.5,1183.3L120.5,1180.0L123.6,1176.6L126.6,1173.1L129.6,1169.5L132.7,1165.8L135.7,1162.1L138.7,1158.3L141.8,1154.5L144.8,1150.7L147.8,1147.0L150.9,1143.1L153.9,1139.2L156.9,1135.4L160.0,1131.8L163.0,1128.4L166.0,1125.2L169.1,1122.3L172.1,1119.6L175.1,1117.1L178.2,1114.8L181.2,1112.8L184.2,1111.1L187.2,1109.5L190.3,1108.1L193.3,1105.6L196.3,1103.4L199.4,1101.3L202.4,1099.5L205.4,1097.9L208.5,1096.6L211.5,1095.4L214.5,1094.4L217.6,1093.7L220.6,1093.1L223.6,1092.8L226.7,1092.6L229.7,1092.7L232.7,1092.9L235.8,1093.3L238.8,1094.0L241.8,1094.8L244.9,1095.8L247.9,1097.0L250.9,1098.3L254.0,1099.9L257.0,1101.6 L257.0,1158.6L254.0,1155.0L250.9,1151.6L247.9,1148.4L244.9,1145.4L241.8,1142.5L238.8,1139.8L235.8,1137.4L232.7,1135.1L229.7,1133.0L226.7,1131.1L223.6,1129.4L220.6,1127.9L217.6,1126.5L214.5,1125.4L211.5,1124.6L208.5,1123.9L205.4,1123.4L202.4,1123.1L199.4,1123.1L196.3,1123.3L193.3,1123.7L190.3,1124.3L187.2,1125.0L184.2,1126.0L181.2,1127.2L178.2,1128.6L175.1,1130.2L172.1,1132.1L169.1,1134.3L166.0,1136.7L163.0,1139.3L160.0,1142.1L156.9,1145.1L153.9,1148.3L150.9,1151.6L147.8,1155.0L144.8,1158.7L141.8,1162.5L138.7,1166.3L135.7,1170.1L132.7,1173.8L129.6,1177.5L126.6,1181.1L123.6,1184.6L120.5,1188.0L117.5,1191.3L114.5,1194.4L111.4,1197.3L108.4,1200.0L105.4,1202.5L102.3,1204.9L99.3,1207.1L96.3,1209.1L93.2,1211.0L90.2,1212.7L87.2,1214.2L84.1,1215.6L81.1,1216.9L78.1,1218.0L75.0,1218.9L72.0,1219.8L69.0,1220.5L65.9,1221.0L62.9,1221.5L59.9,1221.8L56.8,1222.1L53.8,1222.2L50.8,1222.2L47.8,1222.1 Z" fill="#f7c98a" fill-opacity="0.16" stroke="none"/>
<path d="M47.8,1215.3L50.8,1215.2L53.8,1215.2L56.8,1215.1L59.9,1215.0L62.9,1214.9L65.9,1214.7L69.0,1214.4L72.0,1214.1L75.0,1213.6L78.1,1213.0L81.1,1212.3L84.1,1211.4L87.2,1210.4L90.2,1209.1L93.2,1207.6L96.3,1205.9L99.3,1204.0L102.3,1201.8L105.4,1199.3L108.4,1196.6L111.4,1193.7L114.5,1190.7L117.5,1187.5L120.5,1184.1L123.6,1180.7L126.6,1177.2L129.6,1173.7L132.7,1170.2L135.7,1166.6L138.7,1163.0L141.8,1159.4L144.8,1155.8L147.8,1152.2L150.9,1148.2L153.9,1144.2L156.9,1140.3L160.0,1136.4L163.0,1132.5L166.0,1128.8L169.1,1125.1L172.1,1121.6L175.1,1118.3L178.2,1115.1L181.2,1112.1L184.2,1109.4L187.2,1106.8L190.3,1104.6L193.3,1102.6L196.3,1100.9L199.4,1099.5L202.4,1097.9L205.4,1096.5L208.5,1095.3L211.5,1094.2L214.5,1093.2L217.6,1092.2L220.6,1091.4L223.6,1090.6L226.7,1089.9L229.7,1089.3L232.7,1088.8L235.8,1088.5L238.8,1088.2L241.8,1088.1L244.9,1088.0L247.9,1088.1L250.9,1088.4L254.0,1088.7L257.0,1089.2 L257.0,1123.2L254.0,1121.9L250.9,1120.7L247.9,1119.6L244.9,1118.6L241.8,1117.8L238.8,1117.1L235.8,1116.5L232.7,1116.0L229.7,1115.7L226.7,1115.4L223.6,1115.2L220.6,1115.1L217.6,1115.1L214.5,1115.2L211.5,1115.4L208.5,1115.7L205.4,1116.1L202.4,1116.6L199.4,1117.3L196.3,1118.2L193.3,1119.3L190.3,1120.7L187.2,1122.4L184.2,1124.3L181.2,1126.5L178.2,1128.9L175.1,1131.5L172.1,1134.3L169.1,1137.2L166.0,1140.2L163.0,1143.4L160.0,1146.7L156.9,1150.0L153.9,1153.4L150.9,1156.8L147.8,1160.2L144.8,1163.8L141.8,1167.4L138.7,1171.0L135.7,1174.6L132.7,1178.2L129.6,1181.7L126.6,1185.2L123.6,1188.7L120.5,1192.1L117.5,1195.5L114.5,1198.7L111.4,1201.7L108.4,1204.6L105.4,1207.3L102.3,1209.8L99.3,1212.0L96.3,1213.9L93.2,1215.6L90.2,1217.1L87.2,1218.4L84.1,1219.4L81.1,1220.3L78.1,1221.0L75.0,1221.6L72.0,1222.1L69.0,1222.4L65.9,1222.7L62.9,1222.9L59.9,1223.0L56.8,1223.1L53.8,1223.2L50.8,1223.2L47.8,1223.3 Z" fill="#f0a0c0" fill-opacity="0.12" stroke="none"/>
<path d="M47.8,1204.3L50.8,1204.7L53.8,1205.0L56.8,1205.1L59.9,1205.1L62.9,1204.9L65.9,1204.6L69.0,1204.1L72.0,1203.5L75.0,1202.8L78.1,1202.0L81.1,1201.0L84.1,1200.0L87.2,1198.8L90.2,1197.5L93.2,1196.1L96.3,1194.6L99.3,1193.0L102.3,1191.3L105.4,1189.6L108.4,1187.8L111.4,1185.9L114.5,1183.9L117.5,1182.0L120.5,1179.9L123.6,1177.9L126.6,1175.9L129.6,1173.8L132.7,1171.8L135.7,1169.8L138.7,1167.9L141.8,1165.9L144.8,1164.1L147.8,1162.3L150.9,1160.3L153.9,1158.3L156.9,1156.5L160.0,1154.7L163.0,1153.0L166.0,1151.4L169.1,1149.9L172.1,1148.4L175.1,1147.1L178.2,1145.9L181.2,1144.7L184.2,1143.7L187.2,1142.8L190.3,1141.9L193.3,1141.2L196.3,1140.6L199.4,1140.0L202.4,1138.9L205.4,1137.7L208.5,1136.6L211.5,1135.6L214.5,1134.8L217.6,1134.0L220.6,1133.4L223.6,1132.9L226.7,1132.5L229.7,1132.3L232.7,1132.1L235.8,1132.1L238.8,1132.2L241.8,1132.5L244.9,1132.9L247.9,1133.4L250.9,1134.1L254.0,1134.9L257.0,1135.8 L257.0,1185.8L254.0,1182.7L250.9,1179.8L247.9,1177.0L244.9,1174.4L241.8,1171.9L238.8,1169.5L235.8,1167.2L232.7,1165.1L229.7,1163.1L226.7,1161.2L223.6,1159.5L220.6,1157.9L217.6,1156.4L214.5,1155.0L211.5,1153.7L208.5,1152.6L205.4,1151.5L202.4,1150.6L199.4,1150.0L196.3,1150.4L193.3,1150.9L190.3,1151.5L187.2,1152.3L184.2,1153.1L181.2,1154.0L178.2,1155.0L175.1,1156.2L172.1,1157.4L169.1,1158.7L166.0,1160.1L163.0,1161.6L160.0,1163.1L156.9,1164.8L153.9,1166.5L150.9,1168.4L147.8,1170.3L144.8,1172.4L141.8,1174.6L138.7,1176.8L135.7,1179.1L132.7,1181.4L129.6,1183.8L126.6,1186.1L123.6,1188.5L120.5,1190.8L117.5,1193.1L114.5,1195.4L111.4,1197.7L108.4,1199.9L105.4,1202.0L102.3,1204.1L99.3,1206.1L96.3,1208.0L93.2,1209.9L90.2,1211.6L87.2,1213.2L84.1,1214.8L81.1,1216.2L78.1,1217.5L75.0,1218.6L72.0,1219.7L69.0,1220.6L65.9,1221.4L62.9,1222.1L59.9,1222.6L56.8,1223.0L53.8,1223.2L50.8,1223.3L47.8,1223.2 Z" fill="#d5558a" fill-opacity="0.25" stroke="none"/>
</g>
<line x1="47.5" y1="1178.3" x2="279.0" y2="1178.3" stroke="#ee6870" stroke-width="1.6" stroke-dasharray="3.2,2.3"/>
<line x1="148.4" y1="1071.8" x2="148.4" y2="1253.5" stroke="#111" stroke-width="1.0" stroke-dasharray="2.6,2"/>
<clipPath id="clipE2"><rect x="47.5" y="1071.8" width="209.3" height="181.70000000000005"/></clipPath>
<g clip-path="url(#clipE2)">
<path d="M47.8,1223.9L50.8,1223.7L53.8,1223.5L56.8,1223.4L59.9,1223.1L62.9,1222.9L65.9,1222.7L69.0,1222.4L72.0,1222.2L75.0,1221.9L78.1,1221.6L81.1,1221.4L84.1,1221.1L87.2,1220.8L90.2,1220.5L93.2,1220.2L96.3,1219.8L99.3,1219.5L102.3,1219.2L105.4,1218.9L108.4,1218.6L111.4,1218.3L114.5,1218.0L117.5,1217.6L120.5,1217.3L123.6,1217.0L126.6,1216.7L129.6,1216.5L132.7,1216.2L135.7,1215.9L138.7,1215.6L141.8,1215.4L144.8,1215.2L147.8,1214.9L150.9,1214.7L153.9,1214.5L156.9,1214.3L160.0,1214.2L163.0,1214.0L166.0,1213.9L169.1,1213.8L172.1,1213.7L175.1,1213.6L178.2,1213.6L181.2,1213.6L184.2,1213.6L187.2,1213.6L190.3,1213.7L193.3,1213.7L196.3,1213.9L199.4,1214.0L202.4,1214.2L205.4,1214.4L208.5,1214.6L211.5,1214.9L214.5,1215.1L217.6,1215.5L220.6,1215.9L223.6,1216.3L226.7,1216.7L229.7,1217.2L232.7,1217.7L235.8,1218.3L238.8,1218.9L241.8,1219.5L244.9,1220.2L247.9,1220.9L250.9,1221.7L254.0,1222.5L257.0,1223.4" fill="none" stroke="#b4b4b4" stroke-width="1.1" stroke-linejoin="round"/>
<path d="M47.8,1224.6L50.8,1224.3L53.8,1224.1L56.9,1224.0L59.9,1223.9L62.9,1223.9L66.0,1223.9L69.0,1224.0L72.0,1224.2L75.1,1224.4L78.1,1224.7L81.1,1225.0L84.2,1225.3L87.2,1225.7L90.2,1226.2L93.3,1226.6L96.3,1227.1L99.3,1227.6L102.4,1228.2L105.4,1228.8L108.4,1229.4L111.5,1230.0L114.5,1230.6L117.5,1231.2L120.6,1231.9L123.6,1232.5L126.6,1233.2L129.7,1233.8L132.7,1234.5L135.8,1235.1L138.8,1235.8L141.8,1236.4L144.9,1237.0L147.9,1237.7L150.9,1238.3L154.0,1238.9L157.0,1239.5L160.0,1240.1L163.1,1240.7L166.1,1241.3L169.1,1241.9L172.2,1242.5L175.2,1243.1L178.2,1243.7L181.3,1244.3L184.3,1244.8L187.3,1245.4L190.4,1245.9L193.4,1246.5L196.4,1247.0L199.5,1247.6L202.5,1248.1L205.5,1248.6L208.6,1249.1L211.6,1249.7L214.7,1250.2L217.7,1250.7L220.7,1251.2L223.8,1251.6L226.8,1252.1L229.8,1252.6L232.9,1253.1L235.9,1253.5L238.9,1254.0L242.0,1254.4L245.0,1254.9" fill="none" stroke="#141414" stroke-width="1.5" stroke-linejoin="round"/>
<path d="M47.8,1219.3L50.8,1219.2L53.8,1219.2L56.8,1219.1L59.9,1219.0L62.9,1218.9L65.9,1218.7L69.0,1218.4L72.0,1218.1L75.0,1217.6L78.1,1217.0L81.1,1216.3L84.1,1215.4L87.2,1214.4L90.2,1213.1L93.2,1211.6L96.3,1209.9L99.3,1208.0L102.3,1205.8L105.4,1203.3L108.4,1200.6L111.4,1197.7L114.5,1194.7L117.5,1191.5L120.5,1188.1L123.6,1184.7L126.6,1181.2L129.6,1177.7L132.7,1174.2L135.7,1170.6L138.7,1167.0L141.8,1163.4L144.8,1159.8L147.8,1156.2L150.9,1152.6L153.9,1148.9L156.9,1145.3L160.0,1141.8L163.0,1138.3L166.0,1134.9L169.1,1131.6L172.1,1128.4L175.1,1125.4L178.2,1122.6L181.2,1119.9L184.2,1117.5L187.2,1115.4L190.3,1113.4L193.3,1111.8L196.3,1110.5L199.4,1109.4L202.4,1108.5L205.4,1107.9L208.5,1107.4L211.5,1107.0L214.5,1106.7L217.6,1106.5L220.6,1106.4L223.6,1106.4L226.7,1106.5L229.7,1106.6L232.7,1106.9L235.8,1107.3L238.8,1107.7L241.8,1108.3L244.9,1109.1L247.9,1109.9L250.9,1110.9L254.0,1112.0L257.0,1113.2" fill="none" stroke="#f2a8c2" stroke-width="1.2" stroke-linejoin="round"/>
<path d="M47.8,1212.2L50.8,1212.7L53.8,1213.0L56.8,1213.2L59.9,1213.2L62.9,1213.1L65.9,1212.8L69.0,1212.4L72.0,1211.8L75.0,1211.0L78.1,1210.1L81.1,1209.1L84.1,1208.0L87.2,1206.7L90.2,1205.3L93.2,1203.7L96.3,1202.0L99.3,1200.2L102.3,1198.3L105.4,1196.3L108.4,1194.2L111.4,1191.9L114.5,1189.7L117.5,1187.3L120.5,1184.9L123.6,1182.5L126.6,1180.0L129.6,1177.6L132.7,1175.1L135.7,1172.6L138.7,1170.2L141.8,1167.8L144.8,1165.5L147.8,1163.2L150.9,1161.0L153.9,1158.8L156.9,1156.8L160.0,1154.8L163.0,1153.0L166.0,1151.2L169.1,1149.5L172.1,1148.0L175.1,1146.5L178.2,1145.2L181.2,1144.0L184.2,1142.9L187.2,1142.0L190.3,1141.1L193.3,1140.5L196.3,1139.9L199.4,1139.5L202.4,1139.3L205.4,1139.2L208.5,1139.3L211.5,1139.5L214.5,1139.9L217.6,1140.5L220.6,1141.2L223.6,1142.2L226.7,1143.3L229.7,1144.6L232.7,1146.1L235.8,1147.8L238.8,1149.7L241.8,1151.8L244.9,1154.2L247.9,1156.7L250.9,1159.5L254.0,1162.5L257.0,1165.7" fill="none" stroke="#e07aaa" stroke-width="1.2" stroke-linejoin="round"/>
<path d="M47.8,1218.1L50.8,1218.2L53.8,1218.2L56.8,1218.1L59.9,1217.8L62.9,1217.5L65.9,1217.0L69.0,1216.5L72.0,1215.8L75.0,1214.9L78.1,1214.0L81.1,1212.9L84.1,1211.6L87.2,1210.2L90.2,1208.7L93.2,1207.0L96.3,1205.1L99.3,1203.1L102.3,1200.9L105.4,1198.5L108.4,1196.0L111.4,1193.3L114.5,1190.4L117.5,1187.3L120.5,1184.0L123.6,1180.6L126.6,1177.1L129.6,1173.5L132.7,1169.8L135.7,1166.1L138.7,1162.3L141.8,1158.5L144.8,1154.7L147.8,1151.0L150.9,1147.3L153.9,1143.7L156.9,1140.3L160.0,1137.0L163.0,1133.8L166.0,1130.9L169.1,1128.3L172.1,1125.8L175.1,1123.7L178.2,1121.7L181.2,1120.0L184.2,1118.5L187.2,1117.3L190.3,1116.3L193.3,1115.5L196.3,1114.9L199.4,1114.5L202.4,1114.4L205.4,1114.5L208.5,1114.8L211.5,1115.3L214.5,1116.0L217.6,1116.9L220.6,1118.0L223.6,1119.4L226.7,1120.9L229.7,1122.6L232.7,1124.5L235.8,1126.6L238.8,1128.9L241.8,1131.4L244.9,1134.1L247.9,1136.9L250.9,1140.0L254.0,1143.2L257.0,1146.6" fill="none" stroke="#f5c518" stroke-width="1.4" stroke-linejoin="round"/>
<path d="M47.8,1210.3L50.8,1210.2L53.8,1210.1L56.8,1210.0L59.9,1209.8L62.9,1209.6L65.9,1209.2L69.0,1208.8L72.0,1208.4L75.0,1207.8L78.1,1207.1L81.1,1206.3L84.1,1205.4L87.2,1204.4L90.2,1203.2L93.2,1201.9L96.3,1200.5L99.3,1198.9L102.3,1197.1L105.4,1195.2L108.4,1193.1L111.4,1190.9L114.5,1188.6L117.5,1186.1L120.5,1183.6L123.6,1181.1L126.6,1178.4L129.6,1175.7L132.7,1173.0L135.7,1170.3L138.7,1167.6L141.8,1164.8L144.8,1162.1L147.8,1159.5L150.9,1156.8L153.9,1154.3L156.9,1151.8L160.0,1149.3L163.0,1147.0L166.0,1144.7L169.1,1142.5L172.1,1140.4L175.1,1138.4L178.2,1136.5L181.2,1134.7L184.2,1133.0L187.2,1131.5L190.3,1130.0L193.3,1128.7L196.3,1127.6L199.4,1126.5L202.4,1125.6L205.4,1124.9L208.5,1124.3L211.5,1123.9L214.5,1123.6L217.6,1123.6L220.6,1123.6L223.6,1123.8L226.7,1124.2L229.7,1124.7L232.7,1125.3L235.8,1126.1L238.8,1126.9L241.8,1127.9L244.9,1128.9L247.9,1130.1L250.9,1131.3L254.0,1132.6L257.0,1134.0" fill="none" stroke="#d8385e" stroke-width="1.3" stroke-linejoin="round"/>
<path d="M47.8,1216.2L50.8,1216.4L53.8,1216.5L56.8,1216.3L59.9,1216.1L62.9,1215.7L65.9,1215.1L69.0,1214.5L72.0,1213.6L75.0,1212.7L78.1,1211.6L81.1,1210.5L84.1,1209.2L87.2,1207.7L90.2,1206.2L93.2,1204.6L96.3,1202.9L99.3,1201.0L102.3,1199.1L105.4,1197.1L108.4,1195.1L111.4,1192.9L114.5,1190.7L117.5,1188.5L120.5,1186.2L123.6,1183.9L126.6,1181.7L129.6,1179.4L132.7,1177.1L135.7,1174.8L138.7,1172.6L141.8,1170.5L144.8,1168.3L147.8,1166.3L150.9,1164.3L153.9,1162.4L156.9,1160.6L160.0,1158.9L163.0,1157.3L166.0,1155.7L169.1,1154.3L172.1,1152.9L175.1,1151.6L178.2,1150.5L181.2,1149.4L184.2,1148.4L187.2,1147.5L190.3,1146.7L193.3,1146.1L196.3,1145.5L199.4,1145.0L202.4,1144.7L205.4,1144.4L208.5,1144.3L211.5,1144.3L214.5,1144.4L217.6,1144.6L220.6,1144.9L223.6,1145.4L226.7,1145.9L229.7,1146.6L232.7,1147.5L235.8,1148.4L238.8,1149.5L241.8,1150.7L244.9,1152.1L247.9,1153.5L250.9,1155.1L254.0,1156.9L257.0,1158.8" fill="none" stroke="#7a1c55" stroke-width="1.3" stroke-linejoin="round"/>
</g>
<line x1="47.5" y1="1071.8" x2="47.5" y2="1254.0" stroke="#555" stroke-width="1.0"/>
<line x1="47.0" y1="1253.5" x2="279.0" y2="1253.5" stroke="#555" stroke-width="1.0"/>
<text x="38.5" y="1089.8" font-size="7.4" fill="#444" text-anchor="middle" >6</text>
<text x="38.5" y="1135.0" font-size="7.4" fill="#444" text-anchor="middle" >4</text>
<text x="42.0" y="1186.6" font-size="7.4" fill="#444" text-anchor="middle" >2</text>
<text x="41.5" y="1237.6" font-size="7.4" fill="#444" text-anchor="middle" >0</text>
<line x1="45.5" y1="1087.2" x2="47.5" y2="1087.2" stroke="#666" stroke-width="0.6"/>
<line x1="45.5" y1="1132.4" x2="47.5" y2="1132.4" stroke="#666" stroke-width="0.6"/>
<line x1="45.5" y1="1183.4" x2="47.5" y2="1183.4" stroke="#666" stroke-width="0.6"/>
<line x1="45.5" y1="1234.2" x2="47.5" y2="1234.2" stroke="#666" stroke-width="0.6"/>
<line x1="88.4" y1="1253.5" x2="88.4" y2="1255.5" stroke="#666" stroke-width="0.6"/>
<line x1="148.4" y1="1253.5" x2="148.4" y2="1255.5" stroke="#666" stroke-width="0.6"/>
<line x1="208.6" y1="1253.5" x2="208.6" y2="1255.5" stroke="#666" stroke-width="0.6"/>
<line x1="269.0" y1="1253.5" x2="269.0" y2="1255.5" stroke="#666" stroke-width="0.6"/>
<text x="91.3" y="1262.0" font-size="7.6" fill="#444" text-anchor="middle" >−10</text>
<text x="148.4" y="1262.0" font-size="7.6" fill="#444" text-anchor="middle" >0</text>
<text x="208.8" y="1262.0" font-size="7.6" fill="#444" text-anchor="middle" >10</text>
<text x="268.7" y="1262.0" font-size="7.6" fill="#444" text-anchor="middle" >20</text>
<text x="0.3" y="1083.8" font-size="17.4" fill="#222" font-weight="bold" >E)</text>
<text x="110.2" y="1063.2" font-size="12.7" fill="#333" font-weight="bold" textLength="106.7" lengthAdjust="spacingAndGlyphs" >Other biomarkers</text>
<text x="19.8" y="1162.3" font-size="8.5" fill="#111" font-weight="bold" text-anchor="middle" textLength="93" lengthAdjust="spacingAndGlyphs" transform="rotate(-90 19.8 1162.3)" >Biomarker abnormality</text>
<text x="29.7" y="1162.3" font-size="8.5" fill="#111" font-weight="bold" text-anchor="middle" transform="rotate(-90 29.7 1162.3)" >(Z-score)</text>
<text x="100.7" y="1279.2" font-size="10" fill="#111" font-weight="bold" textLength="124.5" lengthAdjust="spacingAndGlyphs" >Estimated Tau-PET+ years</text>
<line x1="279.8" y1="1110.8" x2="284.5" y2="1110.8" stroke="#f2a8c2" stroke-width="1.6"/>
<text x="286.5" y="1113.7" font-size="8.1" fill="#222" textLength="38.6" lengthAdjust="spacingAndGlyphs" >%p-tau181</text>
<line x1="279.8" y1="1132.4" x2="284.5" y2="1132.4" stroke="#d8385e" stroke-width="1.6"/>
<text x="286.5" y="1135.3" font-size="8.1" fill="#222" textLength="38.6" lengthAdjust="spacingAndGlyphs" >%p-tau208</text>
<line x1="279.8" y1="1146.5" x2="284.5" y2="1146.5" stroke="#f5c518" stroke-width="1.6"/>
<text x="286.5" y="1149.4" font-size="8.1" fill="#222" textLength="38.6" lengthAdjust="spacingAndGlyphs" >%p-tau153</text>
<line x1="279.8" y1="1159.9" x2="284.5" y2="1159.9" stroke="#7a1c55" stroke-width="1.6"/>
<text x="286.5" y="1162.8" font-size="8.1" fill="#222" textLength="38.6" lengthAdjust="spacingAndGlyphs" >%p-tau231</text>
<line x1="279.8" y1="1172.3" x2="284.5" y2="1172.3" stroke="#e07aaa" stroke-width="1.6"/>
<text x="286.5" y="1175.2" font-size="8.1" fill="#222" textLength="38.6" lengthAdjust="spacingAndGlyphs" >%p-tau111</text>
<line x1="279.8" y1="1222.8" x2="284.5" y2="1222.8" stroke="#b4b4b4" stroke-width="1.6"/>
<text x="286.5" y="1225.7" font-size="8.1" fill="#222" textLength="38.6" lengthAdjust="spacingAndGlyphs" >%p-tau199</text>
<line x1="279.8" y1="1248.1" x2="284.5" y2="1248.1" stroke="#141414" stroke-width="1.6"/>
<text x="286.5" y="1251.0" font-size="8.1" fill="#222" textLength="38.6" lengthAdjust="spacingAndGlyphs" >%p-tau202</text>
<line x1="391.1" y1="1070.5" x2="391.1" y2="1245.0" stroke="#e9e9e9" stroke-width="0.7"/>
<line x1="420.4" y1="1070.5" x2="420.4" y2="1245.0" stroke="#e9e9e9" stroke-width="0.7"/>
<line x1="449.7" y1="1070.5" x2="449.7" y2="1245.0" stroke="#e9e9e9" stroke-width="0.7"/>
<line x1="508.3" y1="1070.5" x2="508.3" y2="1245.0" stroke="#e9e9e9" stroke-width="0.7"/>
<line x1="537.6" y1="1070.5" x2="537.6" y2="1245.0" stroke="#e9e9e9" stroke-width="0.7"/>
<line x1="566.9" y1="1070.5" x2="566.9" y2="1245.0" stroke="#e9e9e9" stroke-width="0.7"/>
<line x1="596.2" y1="1070.5" x2="596.2" y2="1245.0" stroke="#e9e9e9" stroke-width="0.7"/>
<line x1="377.0" y1="1081.3" x2="604.8" y2="1081.3" stroke="#e9e9e9" stroke-width="0.7"/>
<line x1="377.0" y1="1098.8" x2="604.8" y2="1098.8" stroke="#e9e9e9" stroke-width="0.7"/>
<line x1="377.0" y1="1115.5" x2="604.8" y2="1115.5" stroke="#e9e9e9" stroke-width="0.7"/>
<line x1="377.0" y1="1132.5" x2="604.8" y2="1132.5" stroke="#e9e9e9" stroke-width="0.7"/>
<line x1="377.0" y1="1149.8" x2="604.8" y2="1149.8" stroke="#e9e9e9" stroke-width="0.7"/>
<line x1="377.0" y1="1167.3" x2="604.8" y2="1167.3" stroke="#e9e9e9" stroke-width="0.7"/>
<line x1="377.0" y1="1184.5" x2="604.8" y2="1184.5" stroke="#e9e9e9" stroke-width="0.7"/>
<line x1="377.0" y1="1201.1" x2="604.8" y2="1201.1" stroke="#e9e9e9" stroke-width="0.7"/>
<line x1="377.0" y1="1218.2" x2="604.8" y2="1218.2" stroke="#e9e9e9" stroke-width="0.7"/>
<line x1="377.0" y1="1235.8" x2="604.8" y2="1235.8" stroke="#e9e9e9" stroke-width="0.7"/>
<line x1="479.0" y1="1070.7" x2="479.0" y2="1245.0" stroke="#e8434d" stroke-width="1.0" stroke-dasharray="1,1.3"/>
<line x1="406.3" y1="1081.3" x2="427.6" y2="1081.3" stroke="#f39c2d" stroke-width="1.3"/>
<line x1="406.3" y1="1079.5" x2="406.3" y2="1083.1" stroke="#f39c2d" stroke-width="1.0"/>
<line x1="427.6" y1="1079.5" x2="427.6" y2="1083.1" stroke="#f39c2d" stroke-width="1.0"/>
<circle cx="417.7" cy="1081.3" r="2.6" fill="#f39c2d"/>
<text x="612.5" y="1083.3" font-size="8.5" fill="#1a1a1a" >%p-tau217</text>
<line x1="428.3" y1="1098.8" x2="452.2" y2="1098.8" stroke="#f5c518" stroke-width="1.3"/>
<line x1="428.3" y1="1097.0" x2="428.3" y2="1100.6" stroke="#f5c518" stroke-width="1.0"/>
<line x1="452.2" y1="1097.0" x2="452.2" y2="1100.6" stroke="#f5c518" stroke-width="1.0"/>
<circle cx="438.6" cy="1098.8" r="2.6" fill="#f5c518"/>
<text x="612.5" y="1100.8" font-size="8.5" fill="#1a1a1a" >%p-tau153</text>
<line x1="426.8" y1="1115.5" x2="457.9" y2="1115.5" stroke="#d8385e" stroke-width="1.3"/>
<line x1="426.8" y1="1113.7" x2="426.8" y2="1117.3" stroke="#d8385e" stroke-width="1.0"/>
<line x1="457.9" y1="1113.7" x2="457.9" y2="1117.3" stroke="#d8385e" stroke-width="1.0"/>
<circle cx="442.4" cy="1115.5" r="2.6" fill="#d8385e"/>
<text x="612.5" y="1117.5" font-size="8.5" fill="#1a1a1a" >%p-tau208</text>
<line x1="431.3" y1="1132.5" x2="459.4" y2="1132.5" stroke="#e07aaa" stroke-width="1.3"/>
<line x1="431.3" y1="1130.7" x2="431.3" y2="1134.3" stroke="#e07aaa" stroke-width="1.0"/>
<line x1="459.4" y1="1130.7" x2="459.4" y2="1134.3" stroke="#e07aaa" stroke-width="1.0"/>
<circle cx="444.3" cy="1132.5" r="2.6" fill="#e07aaa"/>
<text x="612.5" y="1134.5" font-size="8.5" fill="#1a1a1a" >%p-tau111</text>
<line x1="434.4" y1="1149.8" x2="461.3" y2="1149.8" stroke="#f2a8c2" stroke-width="1.3"/>
<line x1="434.4" y1="1148.0" x2="434.4" y2="1151.6" stroke="#f2a8c2" stroke-width="1.0"/>
<line x1="461.3" y1="1148.0" x2="461.3" y2="1151.6" stroke="#f2a8c2" stroke-width="1.0"/>
<circle cx="447.7" cy="1149.8" r="2.6" fill="#f2a8c2"/>
<text x="612.5" y="1151.8" font-size="8.5" fill="#1a1a1a" >%p-tau181</text>
<line x1="435.7" y1="1167.3" x2="461.4" y2="1167.3" stroke="#7a1c55" stroke-width="1.3"/>
<line x1="435.7" y1="1165.5" x2="435.7" y2="1169.1" stroke="#7a1c55" stroke-width="1.0"/>
<line x1="461.4" y1="1165.5" x2="461.4" y2="1169.1" stroke="#7a1c55" stroke-width="1.0"/>
<circle cx="447.3" cy="1167.3" r="2.6" fill="#7a1c55"/>
<text x="612.5" y="1169.3" font-size="8.5" fill="#1a1a1a" >%p-tau231</text>
<line x1="447.8" y1="1184.5" x2="469.9" y2="1184.5" stroke="#c0283a" stroke-width="1.3"/>
<line x1="447.8" y1="1182.7" x2="447.8" y2="1186.3" stroke="#c0283a" stroke-width="1.0"/>
<line x1="469.9" y1="1182.7" x2="469.9" y2="1186.3" stroke="#c0283a" stroke-width="1.0"/>
<circle cx="459.4" cy="1184.5" r="2.6" fill="#c0283a"/>
<text x="612.5" y="1186.5" font-size="8.5" fill="#1a1a1a" >MTBR-tau243</text>
<line x1="448.8" y1="1201.1" x2="468.9" y2="1201.1" stroke="#5aad4f" stroke-width="1.3"/>
<line x1="448.8" y1="1199.3" x2="448.8" y2="1202.9" stroke="#5aad4f" stroke-width="1.0"/>
<line x1="468.9" y1="1199.3" x2="468.9" y2="1202.9" stroke="#5aad4f" stroke-width="1.0"/>
<circle cx="460.9" cy="1201.1" r="2.6" fill="#5aad4f"/>
<text x="612.5" y="1203.1" font-size="8.5" fill="#1a1a1a" >%p-tau205</text>
<line x1="474.0" y1="1218.2" x2="505.2" y2="1218.2" stroke="#2ba6dc" stroke-width="1.3"/>
<line x1="474.0" y1="1216.4" x2="474.0" y2="1220.0" stroke="#2ba6dc" stroke-width="1.0"/>
<line x1="505.2" y1="1216.4" x2="505.2" y2="1220.0" stroke="#2ba6dc" stroke-width="1.0"/>
<circle cx="489.1" cy="1218.2" r="2.6" fill="#2ba6dc"/>
<text x="612.5" y="1220.2" font-size="8.5" fill="#1a1a1a" >mPACC</text>
<line x1="529.4" y1="1235.8" x2="567.6" y2="1235.8" stroke="#8a5a2c" stroke-width="1.3"/>
<line x1="529.4" y1="1234.0" x2="529.4" y2="1237.6" stroke="#8a5a2c" stroke-width="1.0"/>
<line x1="567.6" y1="1234.0" x2="567.6" y2="1237.6" stroke="#8a5a2c" stroke-width="1.0"/>
<circle cx="550.0" cy="1235.8" r="2.6" fill="#8a5a2c"/>
<text x="612.5" y="1237.8" font-size="8.5" fill="#1a1a1a" >np-tau mid-region</text>
<text x="419.6" y="1253.4" font-size="8.2" fill="#444" text-anchor="middle" >−5</text>
<text x="479.0" y="1253.4" font-size="8.2" fill="#444" text-anchor="middle" >0</text>
<text x="537.9" y="1253.4" font-size="8.2" fill="#444" text-anchor="middle" >5</text>
<text x="595.9" y="1253.4" font-size="8.2" fill="#444" text-anchor="middle" >10</text>
<text x="340.0" y="1083.8" font-size="17.4" fill="#222" font-weight="bold" >F)</text>
<text x="412.0" y="1277.6" font-size="10" fill="#111" font-weight="bold" textLength="191.4" lengthAdjust="spacingAndGlyphs" >Estimated Crossing Time from tau-PET+</text>
<rect x="55.0" y="716.8" width="1.0" height="2.2" fill="#bdbdbd"/>
</svg>
</body></html>
